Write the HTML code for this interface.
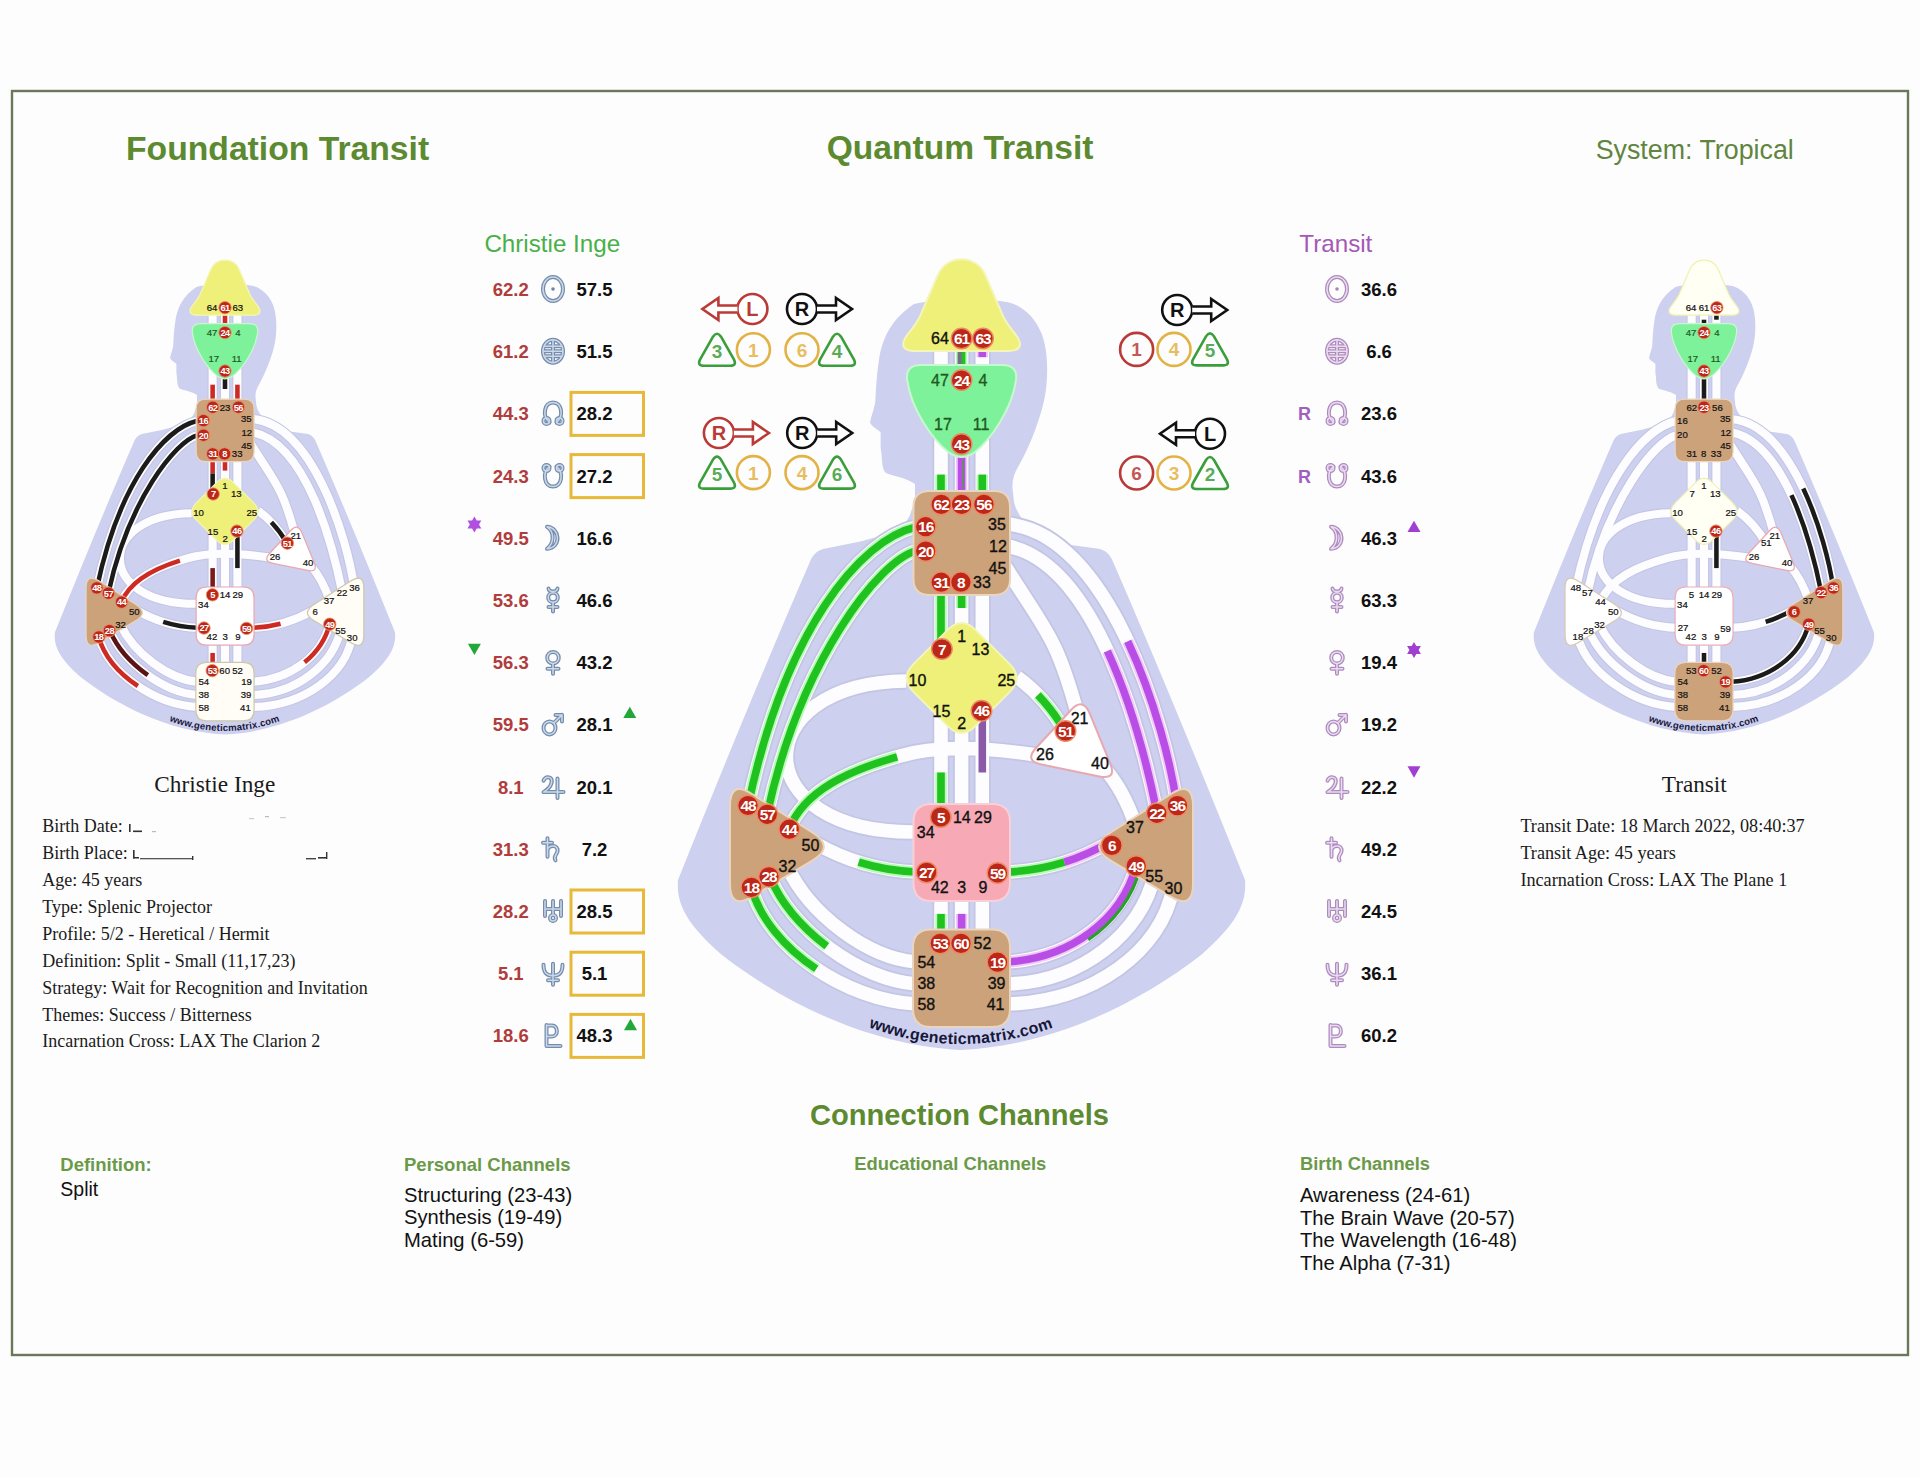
<!DOCTYPE html><html><head><meta charset="utf-8"><title>Foundation Transit</title>
<style>html,body{margin:0;padding:0;background:#fefefe;}body{width:1920px;height:1477px;overflow:hidden;position:relative;}svg{position:absolute;left:0;top:0;}</style></head><body>
<svg width="1920" height="1477" viewBox="0 0 1920 1477">
<rect x="0" y="0" width="1920" height="1477" fill="#fdfdfd"/>
<rect x="12" y="91" width="1896" height="1264" fill="none" stroke="#6b7858" stroke-width="2.4"/>
<text x="126" y="159.6" font-family="'Liberation Sans', sans-serif" font-size="33.7" font-weight="bold" fill="#5c8a30">Foundation Transit</text>
<text x="826.7" y="159.3" font-family="'Liberation Sans', sans-serif" font-size="33.6" font-weight="bold" fill="#5c8a30">Quantum Transit</text>
<text x="1595.7" y="159.4" font-family="'Liberation Sans', sans-serif" font-size="26.8" fill="#5f8540">System: Tropical</text>
<g id="cbg">
<path d="M 961 300 C 990 300 1008 300 1018 306 C 1036 316 1045 335 1046.5 356 C 1048 372 1047 390 1043 405 C 1038 425 1028 450 1018 467 C 1014 474 1012 480 1012.5 488 L 1014 502 C 1018 520 1036 536 1064 544 L 1100 549 C 1107 551 1111 556 1114 564 Q 1173 700 1245 880 C 1247 905 1235 925 1201 955 C 1143 1000 1058 1045 961.5 1050 C 865 1045 780 1000 722 955 C 688 925 676 905 678 880 Q 750 700 809 564 C 812 556 816 551 823 549 L 858 542 C 888 535 905 528 910 515 L 915 500 L 915 484 C 905 477 892 476 886 473 C 882 470 882 460 881.3 452 C 880 447 881 437 880.5 432 C 876 428 869 425 870.3 421 C 872 414 875.4 405 875.4 400 C 876 388 877 372 879 360 C 882 340 890 320 914 304 C 930 300 950 300 961 300 Z" fill="#cdd0ee"/>
<path d="M 941.0 345 L 941.0 372" fill="none" stroke="#c3c5e3" stroke-width="17"/>
<path d="M 961.6 345 L 961.6 372" fill="none" stroke="#c3c5e3" stroke-width="17"/>
<path d="M 982.3 345 L 982.3 372" fill="none" stroke="#c3c5e3" stroke-width="17"/>
<path d="M 941.0 420 L 941.0 498" fill="none" stroke="#c3c5e3" stroke-width="17"/>
<path d="M 961.6 450 L 961.6 498" fill="none" stroke="#c3c5e3" stroke-width="17"/>
<path d="M 982.3 420 L 982.3 498" fill="none" stroke="#c3c5e3" stroke-width="17"/>
<path d="M 941.0 590 L 941.0 652" fill="none" stroke="#c3c5e3" stroke-width="17"/>
<path d="M 961.6 590 L 961.6 630" fill="none" stroke="#c3c5e3" stroke-width="17"/>
<path d="M 982.3 590 L 982.3 652" fill="none" stroke="#c3c5e3" stroke-width="17"/>
<path d="M 941.0 708 L 941.0 812" fill="none" stroke="#c3c5e3" stroke-width="17"/>
<path d="M 961.6 725 L 961.6 812" fill="none" stroke="#c3c5e3" stroke-width="17"/>
<path d="M 982.3 708 L 982.3 812" fill="none" stroke="#c3c5e3" stroke-width="17"/>
<path d="M 941.0 895 L 941.0 937" fill="none" stroke="#c3c5e3" stroke-width="17"/>
<path d="M 961.6 895 L 961.6 937" fill="none" stroke="#c3c5e3" stroke-width="17"/>
<path d="M 982.3 895 L 982.3 937" fill="none" stroke="#c3c5e3" stroke-width="17"/>
<path d="M 916 527 C 860 540 785 630 748 806" fill="none" stroke="#c3c5e3" stroke-width="17"/>
<path d="M 916 551 C 880 560 800 660 767 815" fill="none" stroke="#c3c5e3" stroke-width="17"/>
<path d="M 906 681 C 745 683 745 834 916 832" fill="none" stroke="#c3c5e3" stroke-width="17"/>
<path d="M 1036 755 C 990 748 940 744 900 756 C 850 770 805 790 789 829" fill="none" stroke="#c3c5e3" stroke-width="17"/>
<path d="M 815 843 Q 862 870 916 872" fill="none" stroke="#c3c5e3" stroke-width="17"/>
<path d="M 1007 872 Q 1061 870 1108 843" fill="none" stroke="#c3c5e3" stroke-width="17"/>
<path d="M 751 887 C 768 948 845 1000 916 1004" fill="none" stroke="#c3c5e3" stroke-width="17"/>
<path d="M 770 877 C 792 930 860 980 916 984" fill="none" stroke="#c3c5e3" stroke-width="17"/>
<path d="M 787 866 C 810 915 868 958 916 962" fill="none" stroke="#c3c5e3" stroke-width="17"/>
<path d="M 1007 524 C 1108.3 532.5 1165.5 723 1177 806" fill="none" stroke="#c3c5e3" stroke-width="17"/>
<path d="M 1007 546 C 1097.8 563.4 1141.9 737.5 1157 813" fill="none" stroke="#c3c5e3" stroke-width="17"/>
<path d="M 1005 566 C 1044.4 629.7 1055.6 634.2 1077 712" fill="none" stroke="#c3c5e3" stroke-width="17"/>
<path d="M 1104 768 Q 1124 790 1136 827" fill="none" stroke="#c3c5e3" stroke-width="17"/>
<path d="M 1017 677 Q 1045 697 1065 731" fill="none" stroke="#c3c5e3" stroke-width="17"/>
<path d="M 1007 962 C 1070 958 1122 920 1136 866" fill="none" stroke="#c3c5e3" stroke-width="17"/>
<path d="M 1007 984 C 1082 982 1142 932 1154 876" fill="none" stroke="#c3c5e3" stroke-width="17"/>
<path d="M 1007 1004 C 1094 1002 1162 950 1173 888" fill="none" stroke="#c3c5e3" stroke-width="17"/>
<path d="M 941.0 345 L 941.0 372" fill="none" stroke="#fdfdff" stroke-width="13.5"/>
<path d="M 961.6 345 L 961.6 372" fill="none" stroke="#fdfdff" stroke-width="13.5"/>
<path d="M 982.3 345 L 982.3 372" fill="none" stroke="#fdfdff" stroke-width="13.5"/>
<path d="M 941.0 420 L 941.0 498" fill="none" stroke="#fdfdff" stroke-width="13.5"/>
<path d="M 961.6 450 L 961.6 498" fill="none" stroke="#fdfdff" stroke-width="13.5"/>
<path d="M 982.3 420 L 982.3 498" fill="none" stroke="#fdfdff" stroke-width="13.5"/>
<path d="M 941.0 590 L 941.0 652" fill="none" stroke="#fdfdff" stroke-width="13.5"/>
<path d="M 961.6 590 L 961.6 630" fill="none" stroke="#fdfdff" stroke-width="13.5"/>
<path d="M 982.3 590 L 982.3 652" fill="none" stroke="#fdfdff" stroke-width="13.5"/>
<path d="M 941.0 708 L 941.0 812" fill="none" stroke="#fdfdff" stroke-width="13.5"/>
<path d="M 961.6 725 L 961.6 812" fill="none" stroke="#fdfdff" stroke-width="13.5"/>
<path d="M 982.3 708 L 982.3 812" fill="none" stroke="#fdfdff" stroke-width="13.5"/>
<path d="M 941.0 895 L 941.0 937" fill="none" stroke="#fdfdff" stroke-width="13.5"/>
<path d="M 961.6 895 L 961.6 937" fill="none" stroke="#fdfdff" stroke-width="13.5"/>
<path d="M 982.3 895 L 982.3 937" fill="none" stroke="#fdfdff" stroke-width="13.5"/>
<path d="M 916 527 C 860 540 785 630 748 806" fill="none" stroke="#fdfdff" stroke-width="13.5"/>
<path d="M 916 551 C 880 560 800 660 767 815" fill="none" stroke="#fdfdff" stroke-width="13.5"/>
<path d="M 906 681 C 745 683 745 834 916 832" fill="none" stroke="#fdfdff" stroke-width="13.5"/>
<path d="M 1036 755 C 990 748 940 744 900 756 C 850 770 805 790 789 829" fill="none" stroke="#fdfdff" stroke-width="13.5"/>
<path d="M 815 843 Q 862 870 916 872" fill="none" stroke="#fdfdff" stroke-width="13.5"/>
<path d="M 1007 872 Q 1061 870 1108 843" fill="none" stroke="#fdfdff" stroke-width="13.5"/>
<path d="M 751 887 C 768 948 845 1000 916 1004" fill="none" stroke="#fdfdff" stroke-width="13.5"/>
<path d="M 770 877 C 792 930 860 980 916 984" fill="none" stroke="#fdfdff" stroke-width="13.5"/>
<path d="M 787 866 C 810 915 868 958 916 962" fill="none" stroke="#fdfdff" stroke-width="13.5"/>
<path d="M 1007 524 C 1108.3 532.5 1165.5 723 1177 806" fill="none" stroke="#fdfdff" stroke-width="13.5"/>
<path d="M 1007 546 C 1097.8 563.4 1141.9 737.5 1157 813" fill="none" stroke="#fdfdff" stroke-width="13.5"/>
<path d="M 1005 566 C 1044.4 629.7 1055.6 634.2 1077 712" fill="none" stroke="#fdfdff" stroke-width="13.5"/>
<path d="M 1104 768 Q 1124 790 1136 827" fill="none" stroke="#fdfdff" stroke-width="13.5"/>
<path d="M 1017 677 Q 1045 697 1065 731" fill="none" stroke="#fdfdff" stroke-width="13.5"/>
<path d="M 1007 962 C 1070 958 1122 920 1136 866" fill="none" stroke="#fdfdff" stroke-width="13.5"/>
<path d="M 1007 984 C 1082 982 1142 932 1154 876" fill="none" stroke="#fdfdff" stroke-width="13.5"/>
<path d="M 1007 1004 C 1094 1002 1162 950 1173 888" fill="none" stroke="#fdfdff" stroke-width="13.5"/>
<path d="M 961.6 345 L 961.6 372" fill="none" stroke="#b8fbb8" stroke-width="11.5"/>
<path d="M 982.3 345 L 982.3 372" pathLength="100" fill="none" stroke="#f2c8fb" stroke-width="11.5" stroke-dasharray="45 400" stroke-dashoffset="0"/>
<path d="M 941.0 420 L 941.0 498" pathLength="100" fill="none" stroke="#b8fbb8" stroke-width="11.5" stroke-dasharray="30 400" stroke-dashoffset="-70"/>
<path d="M 982.3 420 L 982.3 498" pathLength="100" fill="none" stroke="#b8fbb8" stroke-width="11.5" stroke-dasharray="30 400" stroke-dashoffset="-70"/>
<path d="M 961.6 450 L 961.6 498" fill="none" stroke="#f2c8fb" stroke-width="11.5"/>
<path d="M 941.0 590 L 941.0 652" fill="none" stroke="#b8fbb8" stroke-width="11.5"/>
<path d="M 961.6 590 L 961.6 630" pathLength="100" fill="none" stroke="#b8fbb8" stroke-width="11.5" stroke-dasharray="45 400" stroke-dashoffset="0"/>
<path d="M 941.0 708 L 941.0 812" pathLength="100" fill="none" stroke="#b8fbb8" stroke-width="11.5" stroke-dasharray="38 400" stroke-dashoffset="-62"/>
<path d="M 941.0 895 L 941.0 937" pathLength="100" fill="none" stroke="#b8fbb8" stroke-width="11.5" stroke-dasharray="55 400" stroke-dashoffset="-45"/>
<path d="M 961.6 895 L 961.6 937" pathLength="100" fill="none" stroke="#f2c8fb" stroke-width="11.5" stroke-dasharray="55 400" stroke-dashoffset="-45"/>
<path d="M 916 527 C 860 540 785 630 748 806" fill="none" stroke="#b8fbb8" stroke-width="11.5"/>
<path d="M 916 551 C 880 560 800 660 767 815" fill="none" stroke="#b8fbb8" stroke-width="11.5"/>
<path d="M 1036 755 C 990 748 940 744 900 756 C 850 770 805 790 789 829" pathLength="100" fill="none" stroke="#b8fbb8" stroke-width="11.5" stroke-dasharray="49 400" stroke-dashoffset="-51"/>
<path d="M 815 843 Q 862 870 916 872" pathLength="100" fill="none" stroke="#b8fbb8" stroke-width="11.5" stroke-dasharray="55 400" stroke-dashoffset="-45"/>
<path d="M 1007 872 Q 1061 870 1108 843" pathLength="100" fill="none" stroke="#b8fbb8" stroke-width="11.5" stroke-dasharray="55 400" stroke-dashoffset="0"/>
<path d="M 1007 872 Q 1061 870 1108 843" pathLength="100" fill="none" stroke="#f2c8fb" stroke-width="11.5" stroke-dasharray="45 400" stroke-dashoffset="-55"/>
<path d="M 751 887 C 768 948 845 1000 916 1004" pathLength="100" fill="none" stroke="#b8fbb8" stroke-width="11.5" stroke-dasharray="50 400" stroke-dashoffset="0"/>
<path d="M 770 877 C 792 930 860 980 916 984" pathLength="100" fill="none" stroke="#b8fbb8" stroke-width="11.5" stroke-dasharray="48 400" stroke-dashoffset="0"/>
<path d="M 1007 524 C 1108.3 532.5 1165.5 723 1177 806" pathLength="100" fill="none" stroke="#f2c8fb" stroke-width="11.5" stroke-dasharray="49.5 400" stroke-dashoffset="-50.5"/>
<path d="M 1007 546 C 1097.8 563.4 1141.9 737.5 1157 813" pathLength="100" fill="none" stroke="#f2c8fb" stroke-width="11.5" stroke-dasharray="53 400" stroke-dashoffset="-47"/>
<path d="M 1017 677 Q 1045 697 1065 731" pathLength="100" fill="none" stroke="#b8fbb8" stroke-width="11.5" stroke-dasharray="50 400" stroke-dashoffset="-38"/>
<path d="M 1007 962 C 1070 958 1122 920 1136 866" fill="none" stroke="#f2c8fb" stroke-width="11.5"/>
<path d="M 961.6 345 L 961.6 372" fill="none" stroke="#1fc21f" stroke-width="7.6"/>
<path d="M 982.3 345 L 982.3 372" pathLength="100" fill="none" stroke="#b84ee6" stroke-width="7.6" stroke-dasharray="45 400" stroke-dashoffset="0"/>
<path d="M 941.0 420 L 941.0 498" pathLength="100" fill="none" stroke="#1fc21f" stroke-width="7.6" stroke-dasharray="30 400" stroke-dashoffset="-70"/>
<path d="M 982.3 420 L 982.3 498" pathLength="100" fill="none" stroke="#1fc21f" stroke-width="7.6" stroke-dasharray="30 400" stroke-dashoffset="-70"/>
<path d="M 961.6 450 L 961.6 498" fill="none" stroke="#b84ee6" stroke-width="7.6"/>
<path d="M 941.0 590 L 941.0 652" fill="none" stroke="#1fc21f" stroke-width="7.6"/>
<path d="M 961.6 590 L 961.6 630" pathLength="100" fill="none" stroke="#1fc21f" stroke-width="7.6" stroke-dasharray="45 400" stroke-dashoffset="0"/>
<path d="M 941.0 708 L 941.0 812" pathLength="100" fill="none" stroke="#1fc21f" stroke-width="7.6" stroke-dasharray="38 400" stroke-dashoffset="-62"/>
<path d="M 982.3 708 L 982.3 812" pathLength="100" fill="none" stroke="#8a5aa8" stroke-width="7.6" stroke-dasharray="62 400" stroke-dashoffset="0"/>
<path d="M 941.0 895 L 941.0 937" pathLength="100" fill="none" stroke="#1fc21f" stroke-width="7.6" stroke-dasharray="55 400" stroke-dashoffset="-45"/>
<path d="M 961.6 895 L 961.6 937" pathLength="100" fill="none" stroke="#b84ee6" stroke-width="7.6" stroke-dasharray="55 400" stroke-dashoffset="-45"/>
<path d="M 916 527 C 860 540 785 630 748 806" fill="none" stroke="#1fc21f" stroke-width="7.6"/>
<path d="M 916 551 C 880 560 800 660 767 815" fill="none" stroke="#1fc21f" stroke-width="7.6"/>
<path d="M 1036 755 C 990 748 940 744 900 756 C 850 770 805 790 789 829" pathLength="100" fill="none" stroke="#1fc21f" stroke-width="7.6" stroke-dasharray="49 400" stroke-dashoffset="-51"/>
<path d="M 815 843 Q 862 870 916 872" pathLength="100" fill="none" stroke="#1fc21f" stroke-width="7.6" stroke-dasharray="55 400" stroke-dashoffset="-45"/>
<path d="M 1007 872 Q 1061 870 1108 843" pathLength="100" fill="none" stroke="#1fc21f" stroke-width="7.6" stroke-dasharray="55 400" stroke-dashoffset="0"/>
<path d="M 1007 872 Q 1061 870 1108 843" pathLength="100" fill="none" stroke="#b84ee6" stroke-width="7.6" stroke-dasharray="45 400" stroke-dashoffset="-55"/>
<path d="M 751 887 C 768 948 845 1000 916 1004" pathLength="100" fill="none" stroke="#1fc21f" stroke-width="7.6" stroke-dasharray="50 400" stroke-dashoffset="0"/>
<path d="M 770 877 C 792 930 860 980 916 984" pathLength="100" fill="none" stroke="#1fc21f" stroke-width="7.6" stroke-dasharray="48 400" stroke-dashoffset="0"/>
<path d="M 1007 524 C 1108.3 532.5 1165.5 723 1177 806" pathLength="100" fill="none" stroke="#b84ee6" stroke-width="7.6" stroke-dasharray="49.5 400" stroke-dashoffset="-50.5"/>
<path d="M 1007 546 C 1097.8 563.4 1141.9 737.5 1157 813" pathLength="100" fill="none" stroke="#b84ee6" stroke-width="7.6" stroke-dasharray="53 400" stroke-dashoffset="-47"/>
<path d="M 1017 677 Q 1045 697 1065 731" pathLength="100" fill="none" stroke="#1fc21f" stroke-width="7.6" stroke-dasharray="50 400" stroke-dashoffset="-38"/>
<path d="M 1007 962 C 1070 958 1122 920 1136 866" fill="none" stroke="#b84ee6" stroke-width="7.6"/>
<path d="M 1009 966.5 C 1073 962.5 1127 922 1140.5 867" pathLength="100" fill="none" stroke="#2aa02a" stroke-width="3.2" stroke-dasharray="52 400" stroke-dashoffset="-48"/>
<path d="M 963.1 456 L 963.1 492" pathLength="100" fill="none" stroke="#6a8a6a" stroke-width="2.2" stroke-dasharray="80 400" stroke-dashoffset="-10"/>
<path d="M 959.6 350 L 959.6 372" pathLength="100" fill="none" stroke="#7a6a8a" stroke-width="3.8" stroke-dasharray="90 400" stroke-dashoffset="-10"/>
<path d="M 938.2 274.2 A 25.7 25.7 0 0 1 985 274.2 L 1003 316 C 1010 331 1020 336 1020 344 C 1020 349 1016 351 1008 351 L 915.2 351 C 907.2 351 903.2 349 903.2 344 C 903.2 336 913.2 331 920.2 316 Z" fill="#eef07a" stroke="#f4f6b8" stroke-width="2"/>
<path d="M 921 365 L 1002 365 Q 1018 365 1016 380 C 1012 410 990 440 975 452 Q 961.6 462 948.2 452 C 933.2 440 911.2 410 907.2 380 Q 905.2 365 921 365 Z" fill="#7ef29a" stroke="#c8f8d0" stroke-width="2"/>
<path d="M 929.5 491 H 994 Q 1010 491 1010 507 V 579 Q 1010 595 994 595 H 929.5 Q 913.5 595 913.5 579 V 507 Q 913.5 491 929.5 491 Z" fill="#cba27a" stroke="#ead6c0" stroke-width="2"/>
<path d="M 975.7 630.1 L 1009.5 663.9 Q 1023.6 678.0 1009.5 692.1 L 975.7 725.9 Q 961.6 740.0 947.5 725.9 L 913.7 692.1 Q 899.6 678.0 913.7 663.9 L 947.5 630.1 Q 961.6 616.0 975.7 630.1 Z" fill="#eef07a" stroke="#f4f6b8" stroke-width="2"/>
<path d="M 1089.8 713.7 L 1110.2 763.3 Q 1117.0 780.0 1099.4 776.4 L 1041.6 764.6 Q 1024.0 761.0 1036.2 747.8 L 1070.8 710.2 Q 1083.0 697.0 1089.8 713.7 Z" fill="#ffffff" stroke="#e8a8b0" stroke-width="2"/>
<path d="M 931.5 804 H 992 Q 1010 804 1010 822 V 883 Q 1010 901 992 901 H 931.5 Q 913.5 901 913.5 883 V 822 Q 913.5 804 931.5 804 Z" fill="#f7aab6" stroke="#f8d0d8" stroke-width="2"/>
<path d="M 931 929.5 H 992 Q 1010 929.5 1010 947.5 V 1009 Q 1010 1027 992 1027 H 931 Q 913 1027 913 1009 V 947.5 Q 913 929.5 931 929.5 Z" fill="#cba27a" stroke="#ead6c0" stroke-width="2"/>
<path d="M 751.9 794.0 L 813.1 833.0 Q 835.0 847.0 812.7 860.4 L 752.3 896.6 Q 730.0 910.0 730.0 884.0 L 730.0 806.0 Q 730.0 780.0 751.9 794.0 Z" fill="#cba27a" stroke="#ead6c0" stroke-width="2"/>
<path d="M 1193.0 806.0 L 1193.0 884.0 Q 1193.0 910.0 1170.7 896.6 L 1110.3 860.4 Q 1088.0 847.0 1109.9 833.0 L 1171.1 794.0 Q 1193.0 780.0 1193.0 806.0 Z" fill="#cba27a" stroke="#ead6c0" stroke-width="2"/>
<g font-family="'Liberation Sans', sans-serif" font-size="16" text-anchor="middle">
<text x="940" y="344.0" fill="#111" stroke="#111" stroke-width="0.35">64</text>
<circle cx="961.6" cy="338.5" r="10.3" fill="#bd2718" stroke="#ec8a66" stroke-width="1.4"/>
<text x="961.6" y="344.1" fill="#fff" font-size="15.5" font-weight="bold" letter-spacing="-1">61</text>
<circle cx="983" cy="338.5" r="10.3" fill="#bd2718" stroke="#ec8a66" stroke-width="1.4"/>
<text x="983" y="344.1" fill="#fff" font-size="15.5" font-weight="bold" letter-spacing="-1">63</text>
<text x="940" y="385.5" fill="#1f5a1f" stroke="#1f5a1f" stroke-width="0.35">47</text>
<circle cx="961.6" cy="380" r="10.3" fill="#bd2718" stroke="#ec8a66" stroke-width="1.4"/>
<text x="961.6" y="385.6" fill="#fff" font-size="15.5" font-weight="bold" letter-spacing="-1">24</text>
<text x="983" y="385.5" fill="#1f5a1f" stroke="#1f5a1f" stroke-width="0.35">4</text>
<text x="943" y="429.5" fill="#1f5a1f" stroke="#1f5a1f" stroke-width="0.35">17</text>
<text x="981" y="429.5" fill="#1f5a1f" stroke="#1f5a1f" stroke-width="0.35">11</text>
<circle cx="961.6" cy="444" r="10.3" fill="#bd2718" stroke="#ec8a66" stroke-width="1.4"/>
<text x="961.6" y="449.6" fill="#fff" font-size="15.5" font-weight="bold" letter-spacing="-1">43</text>
<circle cx="941.2" cy="504.4" r="10.3" fill="#bd2718" stroke="#ec8a66" stroke-width="1.4"/>
<text x="941.2" y="510.0" fill="#fff" font-size="15.5" font-weight="bold" letter-spacing="-1">62</text>
<circle cx="961.6" cy="504.4" r="10.3" fill="#bd2718" stroke="#ec8a66" stroke-width="1.4"/>
<text x="961.6" y="510.0" fill="#fff" font-size="15.5" font-weight="bold" letter-spacing="-1">23</text>
<circle cx="983.9" cy="504.4" r="10.3" fill="#bd2718" stroke="#ec8a66" stroke-width="1.4"/>
<text x="983.9" y="510.0" fill="#fff" font-size="15.5" font-weight="bold" letter-spacing="-1">56</text>
<circle cx="925.7" cy="526.7" r="10.3" fill="#bd2718" stroke="#ec8a66" stroke-width="1.4"/>
<text x="925.7" y="532.3" fill="#fff" font-size="15.5" font-weight="bold" letter-spacing="-1">16</text>
<circle cx="925.7" cy="551" r="10.3" fill="#bd2718" stroke="#ec8a66" stroke-width="1.4"/>
<text x="925.7" y="556.6" fill="#fff" font-size="15.5" font-weight="bold" letter-spacing="-1">20</text>
<text x="997" y="529.5" fill="#111" stroke="#111" stroke-width="0.35">35</text>
<text x="998" y="551.9" fill="#111" stroke="#111" stroke-width="0.35">12</text>
<text x="997.4" y="573.5" fill="#111" stroke="#111" stroke-width="0.35">45</text>
<circle cx="941.2" cy="582.2" r="10.3" fill="#bd2718" stroke="#ec8a66" stroke-width="1.4"/>
<text x="941.2" y="587.8" fill="#fff" font-size="15.5" font-weight="bold" letter-spacing="-1">31</text>
<circle cx="960.9" cy="582.2" r="10.3" fill="#bd2718" stroke="#ec8a66" stroke-width="1.4"/>
<text x="960.9" y="587.8" fill="#fff" font-size="15.5" font-weight="bold" letter-spacing="-1">8</text>
<text x="981.9" y="587.7" fill="#111" stroke="#111" stroke-width="0.35">33</text>
<text x="961.6" y="641.5" fill="#111" stroke="#111" stroke-width="0.35">1</text>
<circle cx="941.9" cy="649" r="10.3" fill="#bd2718" stroke="#ec8a66" stroke-width="1.4"/>
<text x="941.9" y="654.6" fill="#fff" font-size="15.5" font-weight="bold" letter-spacing="-1">7</text>
<text x="980.5" y="654.5" fill="#111" stroke="#111" stroke-width="0.35">13</text>
<text x="917.5" y="686.0" fill="#111" stroke="#111" stroke-width="0.35">10</text>
<text x="1006.3" y="686.3" fill="#111" stroke="#111" stroke-width="0.35">25</text>
<text x="941.5" y="716.8" fill="#111" stroke="#111" stroke-width="0.35">15</text>
<text x="961.8" y="729.1" fill="#111" stroke="#111" stroke-width="0.35">2</text>
<circle cx="981.5" cy="710.8" r="10.3" fill="#bd2718" stroke="#ec8a66" stroke-width="1.4"/>
<text x="981.5" y="716.4" fill="#fff" font-size="15.5" font-weight="bold" letter-spacing="-1">46</text>
<text x="1079.6" y="723.5" fill="#111" stroke="#111" stroke-width="0.35">21</text>
<circle cx="1065.5" cy="731" r="10.3" fill="#bd2718" stroke="#ec8a66" stroke-width="1.4"/>
<text x="1065.5" y="736.6" fill="#fff" font-size="15.5" font-weight="bold" letter-spacing="-1">51</text>
<text x="1045" y="759.5" fill="#111" stroke="#111" stroke-width="0.35">26</text>
<text x="1100" y="768.5" fill="#111" stroke="#111" stroke-width="0.35">40</text>
<circle cx="748" cy="805.5" r="10.3" fill="#bd2718" stroke="#ec8a66" stroke-width="1.4"/>
<text x="748" y="811.1" fill="#fff" font-size="15.5" font-weight="bold" letter-spacing="-1">48</text>
<circle cx="767.3" cy="814.3" r="10.3" fill="#bd2718" stroke="#ec8a66" stroke-width="1.4"/>
<text x="767.3" y="819.9" fill="#fff" font-size="15.5" font-weight="bold" letter-spacing="-1">57</text>
<circle cx="789.3" cy="829.2" r="10.3" fill="#bd2718" stroke="#ec8a66" stroke-width="1.4"/>
<text x="789.3" y="834.8" fill="#fff" font-size="15.5" font-weight="bold" letter-spacing="-1">44</text>
<text x="810.4" y="850.5" fill="#111" stroke="#111" stroke-width="0.35">50</text>
<text x="787.5" y="871.7" fill="#111" stroke="#111" stroke-width="0.35">32</text>
<circle cx="769" cy="876.8" r="10.3" fill="#bd2718" stroke="#ec8a66" stroke-width="1.4"/>
<text x="769" y="882.4" fill="#fff" font-size="15.5" font-weight="bold" letter-spacing="-1">28</text>
<circle cx="751.4" cy="887.3" r="10.3" fill="#bd2718" stroke="#ec8a66" stroke-width="1.4"/>
<text x="751.4" y="892.9" fill="#fff" font-size="15.5" font-weight="bold" letter-spacing="-1">18</text>
<circle cx="1177.4" cy="805.6" r="10.3" fill="#bd2718" stroke="#ec8a66" stroke-width="1.4"/>
<text x="1177.4" y="811.2" fill="#fff" font-size="15.5" font-weight="bold" letter-spacing="-1">36</text>
<circle cx="1156.8" cy="813.3" r="10.3" fill="#bd2718" stroke="#ec8a66" stroke-width="1.4"/>
<text x="1156.8" y="818.9" fill="#fff" font-size="15.5" font-weight="bold" letter-spacing="-1">22</text>
<text x="1135" y="832.9" fill="#111" stroke="#111" stroke-width="0.35">37</text>
<circle cx="1111.8" cy="845.4" r="10.3" fill="#bd2718" stroke="#ec8a66" stroke-width="1.4"/>
<text x="1111.8" y="851.0" fill="#fff" font-size="15.5" font-weight="bold" letter-spacing="-1">6</text>
<circle cx="1136.2" cy="866" r="10.3" fill="#bd2718" stroke="#ec8a66" stroke-width="1.4"/>
<text x="1136.2" y="871.6" fill="#fff" font-size="15.5" font-weight="bold" letter-spacing="-1">49</text>
<text x="1154.2" y="881.8" fill="#111" stroke="#111" stroke-width="0.35">55</text>
<text x="1173.5" y="893.5" fill="#111" stroke="#111" stroke-width="0.35">30</text>
<circle cx="940.7" cy="817" r="10.3" fill="#bd2718" stroke="#ec8a66" stroke-width="1.4"/>
<text x="940.7" y="822.6" fill="#fff" font-size="15.5" font-weight="bold" letter-spacing="-1">5</text>
<text x="961.8" y="822.5" fill="#111" stroke="#111" stroke-width="0.35">14</text>
<text x="983" y="822.5" fill="#111" stroke="#111" stroke-width="0.35">29</text>
<text x="925.7" y="838.2" fill="#111" stroke="#111" stroke-width="0.35">34</text>
<circle cx="926.6" cy="872.4" r="10.3" fill="#bd2718" stroke="#ec8a66" stroke-width="1.4"/>
<text x="926.6" y="878.0" fill="#fff" font-size="15.5" font-weight="bold" letter-spacing="-1">27</text>
<circle cx="997.5" cy="873" r="10.3" fill="#bd2718" stroke="#ec8a66" stroke-width="1.4"/>
<text x="997.5" y="878.6" fill="#fff" font-size="15.5" font-weight="bold" letter-spacing="-1">59</text>
<text x="939.8" y="892.8" fill="#111" stroke="#111" stroke-width="0.35">42</text>
<text x="961.8" y="892.8" fill="#111" stroke="#111" stroke-width="0.35">3</text>
<text x="983" y="892.8" fill="#111" stroke="#111" stroke-width="0.35">9</text>
<circle cx="940.3" cy="943.4" r="10.3" fill="#bd2718" stroke="#ec8a66" stroke-width="1.4"/>
<text x="940.3" y="949.0" fill="#fff" font-size="15.5" font-weight="bold" letter-spacing="-1">53</text>
<circle cx="961" cy="943.4" r="10.3" fill="#bd2718" stroke="#ec8a66" stroke-width="1.4"/>
<text x="961" y="949.0" fill="#fff" font-size="15.5" font-weight="bold" letter-spacing="-1">60</text>
<text x="982.5" y="948.9" fill="#111" stroke="#111" stroke-width="0.35">52</text>
<text x="926.3" y="967.7" fill="#111" stroke="#111" stroke-width="0.35">54</text>
<circle cx="997.5" cy="962.2" r="10.3" fill="#bd2718" stroke="#ec8a66" stroke-width="1.4"/>
<text x="997.5" y="967.8" fill="#fff" font-size="15.5" font-weight="bold" letter-spacing="-1">19</text>
<text x="926.3" y="989.3" fill="#111" stroke="#111" stroke-width="0.35">38</text>
<text x="996.6" y="989.3" fill="#111" stroke="#111" stroke-width="0.35">39</text>
<text x="926.3" y="1009.9" fill="#111" stroke="#111" stroke-width="0.35">58</text>
<text x="995.6" y="1009.9" fill="#111" stroke="#111" stroke-width="0.35">41</text>
</g>
<path id="wmcbg" d="M 860 1024 Q 961 1064 1062 1024" fill="none"/>
<text font-family="'Liberation Sans', sans-serif" font-size="16" font-weight="bold" fill="#17173a" letter-spacing="0.3"><textPath href="#wmcbg" startOffset="50%" text-anchor="middle">www.geneticmatrix.com</textPath></text>
</g>
<g transform="translate(-351.96,104.6) scale(0.6)"><g id="lbg">
<path d="M 961 300 C 990 300 1008 300 1018 306 C 1036 316 1045 335 1046.5 356 C 1048 372 1047 390 1043 405 C 1038 425 1028 450 1018 467 C 1014 474 1012 480 1012.5 488 L 1014 502 C 1018 520 1036 536 1064 544 L 1100 549 C 1107 551 1111 556 1114 564 Q 1173 700 1245 880 C 1247 905 1235 925 1201 955 C 1143 1000 1058 1045 961.5 1050 C 865 1045 780 1000 722 955 C 688 925 676 905 678 880 Q 750 700 809 564 C 812 556 816 551 823 549 L 858 542 C 888 535 905 528 910 515 L 915 500 L 915 484 C 905 477 892 476 886 473 C 882 470 882 460 881.3 452 C 880 447 881 437 880.5 432 C 876 428 869 425 870.3 421 C 872 414 875.4 405 875.4 400 C 876 388 877 372 879 360 C 882 340 890 320 914 304 C 930 300 950 300 961 300 Z" fill="#cdd0ee"/>
<path d="M 941.0 345 L 941.0 372" fill="none" stroke="#c3c5e3" stroke-width="17"/>
<path d="M 961.6 345 L 961.6 372" fill="none" stroke="#c3c5e3" stroke-width="17"/>
<path d="M 982.3 345 L 982.3 372" fill="none" stroke="#c3c5e3" stroke-width="17"/>
<path d="M 941.0 420 L 941.0 498" fill="none" stroke="#c3c5e3" stroke-width="17"/>
<path d="M 961.6 450 L 961.6 498" fill="none" stroke="#c3c5e3" stroke-width="17"/>
<path d="M 982.3 420 L 982.3 498" fill="none" stroke="#c3c5e3" stroke-width="17"/>
<path d="M 941.0 590 L 941.0 652" fill="none" stroke="#c3c5e3" stroke-width="17"/>
<path d="M 961.6 590 L 961.6 630" fill="none" stroke="#c3c5e3" stroke-width="17"/>
<path d="M 982.3 590 L 982.3 652" fill="none" stroke="#c3c5e3" stroke-width="17"/>
<path d="M 941.0 708 L 941.0 812" fill="none" stroke="#c3c5e3" stroke-width="17"/>
<path d="M 961.6 725 L 961.6 812" fill="none" stroke="#c3c5e3" stroke-width="17"/>
<path d="M 982.3 708 L 982.3 812" fill="none" stroke="#c3c5e3" stroke-width="17"/>
<path d="M 941.0 895 L 941.0 937" fill="none" stroke="#c3c5e3" stroke-width="17"/>
<path d="M 961.6 895 L 961.6 937" fill="none" stroke="#c3c5e3" stroke-width="17"/>
<path d="M 982.3 895 L 982.3 937" fill="none" stroke="#c3c5e3" stroke-width="17"/>
<path d="M 916 527 C 860 540 785 630 748 806" fill="none" stroke="#c3c5e3" stroke-width="17"/>
<path d="M 916 551 C 880 560 800 660 767 815" fill="none" stroke="#c3c5e3" stroke-width="17"/>
<path d="M 906 681 C 745 683 745 834 916 832" fill="none" stroke="#c3c5e3" stroke-width="17"/>
<path d="M 1036 755 C 990 748 940 744 900 756 C 850 770 805 790 789 829" fill="none" stroke="#c3c5e3" stroke-width="17"/>
<path d="M 815 843 Q 862 870 916 872" fill="none" stroke="#c3c5e3" stroke-width="17"/>
<path d="M 1007 872 Q 1061 870 1108 843" fill="none" stroke="#c3c5e3" stroke-width="17"/>
<path d="M 751 887 C 768 948 845 1000 916 1004" fill="none" stroke="#c3c5e3" stroke-width="17"/>
<path d="M 770 877 C 792 930 860 980 916 984" fill="none" stroke="#c3c5e3" stroke-width="17"/>
<path d="M 787 866 C 810 915 868 958 916 962" fill="none" stroke="#c3c5e3" stroke-width="17"/>
<path d="M 1007 524 C 1108.3 532.5 1165.5 723 1177 806" fill="none" stroke="#c3c5e3" stroke-width="17"/>
<path d="M 1007 546 C 1097.8 563.4 1141.9 737.5 1157 813" fill="none" stroke="#c3c5e3" stroke-width="17"/>
<path d="M 1005 566 C 1044.4 629.7 1055.6 634.2 1077 712" fill="none" stroke="#c3c5e3" stroke-width="17"/>
<path d="M 1104 768 Q 1124 790 1136 827" fill="none" stroke="#c3c5e3" stroke-width="17"/>
<path d="M 1017 677 Q 1045 697 1065 731" fill="none" stroke="#c3c5e3" stroke-width="17"/>
<path d="M 1007 962 C 1070 958 1122 920 1136 866" fill="none" stroke="#c3c5e3" stroke-width="17"/>
<path d="M 1007 984 C 1082 982 1142 932 1154 876" fill="none" stroke="#c3c5e3" stroke-width="17"/>
<path d="M 1007 1004 C 1094 1002 1162 950 1173 888" fill="none" stroke="#c3c5e3" stroke-width="17"/>
<path d="M 941.0 345 L 941.0 372" fill="none" stroke="#fdfdff" stroke-width="13.5"/>
<path d="M 961.6 345 L 961.6 372" fill="none" stroke="#fdfdff" stroke-width="13.5"/>
<path d="M 982.3 345 L 982.3 372" fill="none" stroke="#fdfdff" stroke-width="13.5"/>
<path d="M 941.0 420 L 941.0 498" fill="none" stroke="#fdfdff" stroke-width="13.5"/>
<path d="M 961.6 450 L 961.6 498" fill="none" stroke="#fdfdff" stroke-width="13.5"/>
<path d="M 982.3 420 L 982.3 498" fill="none" stroke="#fdfdff" stroke-width="13.5"/>
<path d="M 941.0 590 L 941.0 652" fill="none" stroke="#fdfdff" stroke-width="13.5"/>
<path d="M 961.6 590 L 961.6 630" fill="none" stroke="#fdfdff" stroke-width="13.5"/>
<path d="M 982.3 590 L 982.3 652" fill="none" stroke="#fdfdff" stroke-width="13.5"/>
<path d="M 941.0 708 L 941.0 812" fill="none" stroke="#fdfdff" stroke-width="13.5"/>
<path d="M 961.6 725 L 961.6 812" fill="none" stroke="#fdfdff" stroke-width="13.5"/>
<path d="M 982.3 708 L 982.3 812" fill="none" stroke="#fdfdff" stroke-width="13.5"/>
<path d="M 941.0 895 L 941.0 937" fill="none" stroke="#fdfdff" stroke-width="13.5"/>
<path d="M 961.6 895 L 961.6 937" fill="none" stroke="#fdfdff" stroke-width="13.5"/>
<path d="M 982.3 895 L 982.3 937" fill="none" stroke="#fdfdff" stroke-width="13.5"/>
<path d="M 916 527 C 860 540 785 630 748 806" fill="none" stroke="#fdfdff" stroke-width="13.5"/>
<path d="M 916 551 C 880 560 800 660 767 815" fill="none" stroke="#fdfdff" stroke-width="13.5"/>
<path d="M 906 681 C 745 683 745 834 916 832" fill="none" stroke="#fdfdff" stroke-width="13.5"/>
<path d="M 1036 755 C 990 748 940 744 900 756 C 850 770 805 790 789 829" fill="none" stroke="#fdfdff" stroke-width="13.5"/>
<path d="M 815 843 Q 862 870 916 872" fill="none" stroke="#fdfdff" stroke-width="13.5"/>
<path d="M 1007 872 Q 1061 870 1108 843" fill="none" stroke="#fdfdff" stroke-width="13.5"/>
<path d="M 751 887 C 768 948 845 1000 916 1004" fill="none" stroke="#fdfdff" stroke-width="13.5"/>
<path d="M 770 877 C 792 930 860 980 916 984" fill="none" stroke="#fdfdff" stroke-width="13.5"/>
<path d="M 787 866 C 810 915 868 958 916 962" fill="none" stroke="#fdfdff" stroke-width="13.5"/>
<path d="M 1007 524 C 1108.3 532.5 1165.5 723 1177 806" fill="none" stroke="#fdfdff" stroke-width="13.5"/>
<path d="M 1007 546 C 1097.8 563.4 1141.9 737.5 1157 813" fill="none" stroke="#fdfdff" stroke-width="13.5"/>
<path d="M 1005 566 C 1044.4 629.7 1055.6 634.2 1077 712" fill="none" stroke="#fdfdff" stroke-width="13.5"/>
<path d="M 1104 768 Q 1124 790 1136 827" fill="none" stroke="#fdfdff" stroke-width="13.5"/>
<path d="M 1017 677 Q 1045 697 1065 731" fill="none" stroke="#fdfdff" stroke-width="13.5"/>
<path d="M 1007 962 C 1070 958 1122 920 1136 866" fill="none" stroke="#fdfdff" stroke-width="13.5"/>
<path d="M 1007 984 C 1082 982 1142 932 1154 876" fill="none" stroke="#fdfdff" stroke-width="13.5"/>
<path d="M 1007 1004 C 1094 1002 1162 950 1173 888" fill="none" stroke="#fdfdff" stroke-width="13.5"/>
<path d="M 961.6 345 L 961.6 372" fill="none" stroke="#cc2a22" stroke-width="7.6"/>
<path d="M 961.6 450 L 961.6 498" pathLength="100" fill="none" stroke="#1b1b1b" stroke-width="7.6" stroke-dasharray="50 400" stroke-dashoffset="0"/>
<path d="M 941.0 420 L 941.0 498" pathLength="100" fill="none" stroke="#cc2a22" stroke-width="7.6" stroke-dasharray="40 400" stroke-dashoffset="-60"/>
<path d="M 982.3 420 L 982.3 498" pathLength="100" fill="none" stroke="#cc2a22" stroke-width="7.6" stroke-dasharray="40 400" stroke-dashoffset="-60"/>
<path d="M 916 527 C 860 540 785 630 748 806" fill="none" stroke="#1b1b1b" stroke-width="7.6"/>
<path d="M 916 551 C 880 560 800 660 767 815" fill="none" stroke="#1b1b1b" stroke-width="7.6"/>
<path d="M 941.0 590 L 941.0 652" pathLength="100" fill="none" stroke="#cc2a22" stroke-width="7.6" stroke-dasharray="40 400" stroke-dashoffset="0"/>
<path d="M 941.0 590 L 941.0 652" pathLength="100" fill="none" stroke="#1b1b1b" stroke-width="7.6" stroke-dasharray="60 400" stroke-dashoffset="-40"/>
<path d="M 961.6 590 L 961.6 630" pathLength="100" fill="none" stroke="#cc2a22" stroke-width="7.6" stroke-dasharray="50 400" stroke-dashoffset="0"/>
<path d="M 982.3 708 L 982.3 812" pathLength="100" fill="none" stroke="#1b1b1b" stroke-width="7.6" stroke-dasharray="62 400" stroke-dashoffset="0"/>
<path d="M 1017 677 Q 1045 697 1065 731" pathLength="100" fill="none" stroke="#1b1b1b" stroke-width="7.6" stroke-dasharray="60 400" stroke-dashoffset="-40"/>
<path d="M 1036 755 C 990 748 940 744 900 756 C 850 770 805 790 789 829" pathLength="100" fill="none" stroke="#cc2a22" stroke-width="7.6" stroke-dasharray="45 400" stroke-dashoffset="-55"/>
<path d="M 941.0 708 L 941.0 812" pathLength="100" fill="none" stroke="#7a1a1a" stroke-width="7.6" stroke-dasharray="38 400" stroke-dashoffset="-62"/>
<path d="M 815 843 Q 862 870 916 872" pathLength="100" fill="none" stroke="#1b1b1b" stroke-width="7.6" stroke-dasharray="55 400" stroke-dashoffset="-45"/>
<path d="M 1007 872 Q 1061 870 1108 843" pathLength="100" fill="none" stroke="#cc2a22" stroke-width="7.6" stroke-dasharray="45 400" stroke-dashoffset="0"/>
<path d="M 1007 962 C 1070 958 1122 920 1136 866" pathLength="100" fill="none" stroke="#cc2a22" stroke-width="7.6" stroke-dasharray="45 400" stroke-dashoffset="-55"/>
<path d="M 941.0 895 L 941.0 937" pathLength="100" fill="none" stroke="#cc2a22" stroke-width="7.6" stroke-dasharray="55 400" stroke-dashoffset="-45"/>
<path d="M 751 887 C 768 948 845 1000 916 1004" pathLength="100" fill="none" stroke="#cc2a22" stroke-width="7.6" stroke-dasharray="50 400" stroke-dashoffset="0"/>
<path d="M 770 877 C 792 930 860 980 916 984" pathLength="100" fill="none" stroke="#5a1414" stroke-width="7.6" stroke-dasharray="52 400" stroke-dashoffset="0"/>
<path d="M 938.2 274.2 A 25.7 25.7 0 0 1 985 274.2 L 1003 316 C 1010 331 1020 336 1020 344 C 1020 349 1016 351 1008 351 L 915.2 351 C 907.2 351 903.2 349 903.2 344 C 903.2 336 913.2 331 920.2 316 Z" fill="#eef07a" stroke="#f4f6b8" stroke-width="2"/>
<path d="M 921 365 L 1002 365 Q 1018 365 1016 380 C 1012 410 990 440 975 452 Q 961.6 462 948.2 452 C 933.2 440 911.2 410 907.2 380 Q 905.2 365 921 365 Z" fill="#7ef29a" stroke="#c8f8d0" stroke-width="2"/>
<path d="M 929.5 491 H 994 Q 1010 491 1010 507 V 579 Q 1010 595 994 595 H 929.5 Q 913.5 595 913.5 579 V 507 Q 913.5 491 929.5 491 Z" fill="#cba27a" stroke="#ead6c0" stroke-width="2"/>
<path d="M 975.7 630.1 L 1009.5 663.9 Q 1023.6 678.0 1009.5 692.1 L 975.7 725.9 Q 961.6 740.0 947.5 725.9 L 913.7 692.1 Q 899.6 678.0 913.7 663.9 L 947.5 630.1 Q 961.6 616.0 975.7 630.1 Z" fill="#eef07a" stroke="#f4f6b8" stroke-width="2"/>
<path d="M 1089.8 713.7 L 1110.2 763.3 Q 1117.0 780.0 1099.4 776.4 L 1041.6 764.6 Q 1024.0 761.0 1036.2 747.8 L 1070.8 710.2 Q 1083.0 697.0 1089.8 713.7 Z" fill="#ffffff" stroke="#e8a8b0" stroke-width="2"/>
<path d="M 931.5 804 H 992 Q 1010 804 1010 822 V 883 Q 1010 901 992 901 H 931.5 Q 913.5 901 913.5 883 V 822 Q 913.5 804 931.5 804 Z" fill="#ffffff" stroke="#e8a8b0" stroke-width="2"/>
<path d="M 931 929.5 H 992 Q 1010 929.5 1010 947.5 V 1009 Q 1010 1027 992 1027 H 931 Q 913 1027 913 1009 V 947.5 Q 913 929.5 931 929.5 Z" fill="#fffdf6" stroke="#ccc8a8" stroke-width="2"/>
<path d="M 751.9 794.0 L 813.1 833.0 Q 835.0 847.0 812.7 860.4 L 752.3 896.6 Q 730.0 910.0 730.0 884.0 L 730.0 806.0 Q 730.0 780.0 751.9 794.0 Z" fill="#cba27a" stroke="#ead6c0" stroke-width="2"/>
<path d="M 1193.0 806.0 L 1193.0 884.0 Q 1193.0 910.0 1170.7 896.6 L 1110.3 860.4 Q 1088.0 847.0 1109.9 833.0 L 1171.1 794.0 Q 1193.0 780.0 1193.0 806.0 Z" fill="#fffdf6" stroke="#ccc8a8" stroke-width="2"/>
<g font-family="'Liberation Sans', sans-serif" font-size="16" text-anchor="middle">
<text x="940" y="344.0" fill="#111" stroke="#111" stroke-width="0.35">64</text>
<circle cx="961.6" cy="338.5" r="10.3" fill="#bd2718" stroke="#ec8a66" stroke-width="1.4"/>
<text x="961.6" y="344.1" fill="#fff" font-size="15.5" font-weight="bold" letter-spacing="-1">61</text>
<text x="983" y="344.0" fill="#111" stroke="#111" stroke-width="0.35">63</text>
<text x="940" y="385.5" fill="#1f5a1f" stroke="#1f5a1f" stroke-width="0.35">47</text>
<circle cx="961.6" cy="380" r="10.3" fill="#bd2718" stroke="#ec8a66" stroke-width="1.4"/>
<text x="961.6" y="385.6" fill="#fff" font-size="15.5" font-weight="bold" letter-spacing="-1">24</text>
<text x="983" y="385.5" fill="#1f5a1f" stroke="#1f5a1f" stroke-width="0.35">4</text>
<text x="943" y="429.5" fill="#1f5a1f" stroke="#1f5a1f" stroke-width="0.35">17</text>
<text x="981" y="429.5" fill="#1f5a1f" stroke="#1f5a1f" stroke-width="0.35">11</text>
<circle cx="961.6" cy="444" r="10.3" fill="#bd2718" stroke="#ec8a66" stroke-width="1.4"/>
<text x="961.6" y="449.6" fill="#fff" font-size="15.5" font-weight="bold" letter-spacing="-1">43</text>
<circle cx="941.2" cy="504.4" r="10.3" fill="#bd2718" stroke="#ec8a66" stroke-width="1.4"/>
<text x="941.2" y="510.0" fill="#fff" font-size="15.5" font-weight="bold" letter-spacing="-1">62</text>
<text x="961.6" y="509.9" fill="#111" stroke="#111" stroke-width="0.35">23</text>
<circle cx="983.9" cy="504.4" r="10.3" fill="#bd2718" stroke="#ec8a66" stroke-width="1.4"/>
<text x="983.9" y="510.0" fill="#fff" font-size="15.5" font-weight="bold" letter-spacing="-1">56</text>
<circle cx="925.7" cy="526.7" r="10.3" fill="#bd2718" stroke="#ec8a66" stroke-width="1.4"/>
<text x="925.7" y="532.3" fill="#fff" font-size="15.5" font-weight="bold" letter-spacing="-1">16</text>
<circle cx="925.7" cy="551" r="10.3" fill="#bd2718" stroke="#ec8a66" stroke-width="1.4"/>
<text x="925.7" y="556.6" fill="#fff" font-size="15.5" font-weight="bold" letter-spacing="-1">20</text>
<text x="997" y="529.5" fill="#111" stroke="#111" stroke-width="0.35">35</text>
<text x="998" y="551.9" fill="#111" stroke="#111" stroke-width="0.35">12</text>
<text x="997.4" y="573.5" fill="#111" stroke="#111" stroke-width="0.35">45</text>
<circle cx="941.2" cy="582.2" r="10.3" fill="#bd2718" stroke="#ec8a66" stroke-width="1.4"/>
<text x="941.2" y="587.8" fill="#fff" font-size="15.5" font-weight="bold" letter-spacing="-1">31</text>
<circle cx="960.9" cy="582.2" r="10.3" fill="#bd2718" stroke="#ec8a66" stroke-width="1.4"/>
<text x="960.9" y="587.8" fill="#fff" font-size="15.5" font-weight="bold" letter-spacing="-1">8</text>
<text x="981.9" y="587.7" fill="#111" stroke="#111" stroke-width="0.35">33</text>
<text x="961.6" y="641.5" fill="#111" stroke="#111" stroke-width="0.35">1</text>
<circle cx="941.9" cy="649" r="10.3" fill="#bd2718" stroke="#ec8a66" stroke-width="1.4"/>
<text x="941.9" y="654.6" fill="#fff" font-size="15.5" font-weight="bold" letter-spacing="-1">7</text>
<text x="980.5" y="654.5" fill="#111" stroke="#111" stroke-width="0.35">13</text>
<text x="917.5" y="686.0" fill="#111" stroke="#111" stroke-width="0.35">10</text>
<text x="1006.3" y="686.3" fill="#111" stroke="#111" stroke-width="0.35">25</text>
<text x="941.5" y="716.8" fill="#111" stroke="#111" stroke-width="0.35">15</text>
<text x="961.8" y="729.1" fill="#111" stroke="#111" stroke-width="0.35">2</text>
<circle cx="981.5" cy="710.8" r="10.3" fill="#bd2718" stroke="#ec8a66" stroke-width="1.4"/>
<text x="981.5" y="716.4" fill="#fff" font-size="15.5" font-weight="bold" letter-spacing="-1">46</text>
<text x="1079.6" y="723.5" fill="#111" stroke="#111" stroke-width="0.35">21</text>
<circle cx="1065.5" cy="731" r="10.3" fill="#bd2718" stroke="#ec8a66" stroke-width="1.4"/>
<text x="1065.5" y="736.6" fill="#fff" font-size="15.5" font-weight="bold" letter-spacing="-1">51</text>
<text x="1045" y="759.5" fill="#111" stroke="#111" stroke-width="0.35">26</text>
<text x="1100" y="768.5" fill="#111" stroke="#111" stroke-width="0.35">40</text>
<circle cx="748" cy="805.5" r="10.3" fill="#bd2718" stroke="#ec8a66" stroke-width="1.4"/>
<text x="748" y="811.1" fill="#fff" font-size="15.5" font-weight="bold" letter-spacing="-1">48</text>
<circle cx="767.3" cy="814.3" r="10.3" fill="#bd2718" stroke="#ec8a66" stroke-width="1.4"/>
<text x="767.3" y="819.9" fill="#fff" font-size="15.5" font-weight="bold" letter-spacing="-1">57</text>
<circle cx="789.3" cy="829.2" r="10.3" fill="#bd2718" stroke="#ec8a66" stroke-width="1.4"/>
<text x="789.3" y="834.8" fill="#fff" font-size="15.5" font-weight="bold" letter-spacing="-1">44</text>
<text x="810.4" y="850.5" fill="#111" stroke="#111" stroke-width="0.35">50</text>
<text x="787.5" y="871.7" fill="#111" stroke="#111" stroke-width="0.35">32</text>
<circle cx="769" cy="876.8" r="10.3" fill="#bd2718" stroke="#ec8a66" stroke-width="1.4"/>
<text x="769" y="882.4" fill="#fff" font-size="15.5" font-weight="bold" letter-spacing="-1">28</text>
<circle cx="751.4" cy="887.3" r="10.3" fill="#bd2718" stroke="#ec8a66" stroke-width="1.4"/>
<text x="751.4" y="892.9" fill="#fff" font-size="15.5" font-weight="bold" letter-spacing="-1">18</text>
<text x="1177.4" y="811.1" fill="#111" stroke="#111" stroke-width="0.35">36</text>
<text x="1156.8" y="818.8" fill="#111" stroke="#111" stroke-width="0.35">22</text>
<text x="1135" y="832.9" fill="#111" stroke="#111" stroke-width="0.35">37</text>
<text x="1111.8" y="850.9" fill="#111" stroke="#111" stroke-width="0.35">6</text>
<circle cx="1136.2" cy="866" r="10.3" fill="#bd2718" stroke="#ec8a66" stroke-width="1.4"/>
<text x="1136.2" y="871.6" fill="#fff" font-size="15.5" font-weight="bold" letter-spacing="-1">49</text>
<text x="1154.2" y="881.8" fill="#111" stroke="#111" stroke-width="0.35">55</text>
<text x="1173.5" y="893.5" fill="#111" stroke="#111" stroke-width="0.35">30</text>
<circle cx="940.7" cy="817" r="10.3" fill="#bd2718" stroke="#ec8a66" stroke-width="1.4"/>
<text x="940.7" y="822.6" fill="#fff" font-size="15.5" font-weight="bold" letter-spacing="-1">5</text>
<text x="961.8" y="822.5" fill="#111" stroke="#111" stroke-width="0.35">14</text>
<text x="983" y="822.5" fill="#111" stroke="#111" stroke-width="0.35">29</text>
<text x="925.7" y="838.2" fill="#111" stroke="#111" stroke-width="0.35">34</text>
<circle cx="926.6" cy="872.4" r="10.3" fill="#bd2718" stroke="#ec8a66" stroke-width="1.4"/>
<text x="926.6" y="878.0" fill="#fff" font-size="15.5" font-weight="bold" letter-spacing="-1">27</text>
<circle cx="997.5" cy="873" r="10.3" fill="#bd2718" stroke="#ec8a66" stroke-width="1.4"/>
<text x="997.5" y="878.6" fill="#fff" font-size="15.5" font-weight="bold" letter-spacing="-1">59</text>
<text x="939.8" y="892.8" fill="#111" stroke="#111" stroke-width="0.35">42</text>
<text x="961.8" y="892.8" fill="#111" stroke="#111" stroke-width="0.35">3</text>
<text x="983" y="892.8" fill="#111" stroke="#111" stroke-width="0.35">9</text>
<circle cx="940.3" cy="943.4" r="10.3" fill="#bd2718" stroke="#ec8a66" stroke-width="1.4"/>
<text x="940.3" y="949.0" fill="#fff" font-size="15.5" font-weight="bold" letter-spacing="-1">53</text>
<text x="961" y="948.9" fill="#111" stroke="#111" stroke-width="0.35">60</text>
<text x="982.5" y="948.9" fill="#111" stroke="#111" stroke-width="0.35">52</text>
<text x="926.3" y="967.7" fill="#111" stroke="#111" stroke-width="0.35">54</text>
<text x="997.5" y="967.7" fill="#111" stroke="#111" stroke-width="0.35">19</text>
<text x="926.3" y="989.3" fill="#111" stroke="#111" stroke-width="0.35">38</text>
<text x="996.6" y="989.3" fill="#111" stroke="#111" stroke-width="0.35">39</text>
<text x="926.3" y="1009.9" fill="#111" stroke="#111" stroke-width="0.35">58</text>
<text x="995.6" y="1009.9" fill="#111" stroke="#111" stroke-width="0.35">41</text>
</g>
<path id="wmlbg" d="M 860 1024 Q 961 1064 1062 1024" fill="none"/>
<text font-family="'Liberation Sans', sans-serif" font-size="16" font-weight="bold" fill="#17173a" letter-spacing="0.3"><textPath href="#wmlbg" startOffset="50%" text-anchor="middle">www.geneticmatrix.com</textPath></text>
</g></g>
<g transform="translate(1127.04,104.6) scale(0.6)"><g id="rbg">
<path d="M 961 300 C 990 300 1008 300 1018 306 C 1036 316 1045 335 1046.5 356 C 1048 372 1047 390 1043 405 C 1038 425 1028 450 1018 467 C 1014 474 1012 480 1012.5 488 L 1014 502 C 1018 520 1036 536 1064 544 L 1100 549 C 1107 551 1111 556 1114 564 Q 1173 700 1245 880 C 1247 905 1235 925 1201 955 C 1143 1000 1058 1045 961.5 1050 C 865 1045 780 1000 722 955 C 688 925 676 905 678 880 Q 750 700 809 564 C 812 556 816 551 823 549 L 858 542 C 888 535 905 528 910 515 L 915 500 L 915 484 C 905 477 892 476 886 473 C 882 470 882 460 881.3 452 C 880 447 881 437 880.5 432 C 876 428 869 425 870.3 421 C 872 414 875.4 405 875.4 400 C 876 388 877 372 879 360 C 882 340 890 320 914 304 C 930 300 950 300 961 300 Z" fill="#cdd0ee"/>
<path d="M 941.0 345 L 941.0 372" fill="none" stroke="#c3c5e3" stroke-width="17"/>
<path d="M 961.6 345 L 961.6 372" fill="none" stroke="#c3c5e3" stroke-width="17"/>
<path d="M 982.3 345 L 982.3 372" fill="none" stroke="#c3c5e3" stroke-width="17"/>
<path d="M 941.0 420 L 941.0 498" fill="none" stroke="#c3c5e3" stroke-width="17"/>
<path d="M 961.6 450 L 961.6 498" fill="none" stroke="#c3c5e3" stroke-width="17"/>
<path d="M 982.3 420 L 982.3 498" fill="none" stroke="#c3c5e3" stroke-width="17"/>
<path d="M 941.0 590 L 941.0 652" fill="none" stroke="#c3c5e3" stroke-width="17"/>
<path d="M 961.6 590 L 961.6 630" fill="none" stroke="#c3c5e3" stroke-width="17"/>
<path d="M 982.3 590 L 982.3 652" fill="none" stroke="#c3c5e3" stroke-width="17"/>
<path d="M 941.0 708 L 941.0 812" fill="none" stroke="#c3c5e3" stroke-width="17"/>
<path d="M 961.6 725 L 961.6 812" fill="none" stroke="#c3c5e3" stroke-width="17"/>
<path d="M 982.3 708 L 982.3 812" fill="none" stroke="#c3c5e3" stroke-width="17"/>
<path d="M 941.0 895 L 941.0 937" fill="none" stroke="#c3c5e3" stroke-width="17"/>
<path d="M 961.6 895 L 961.6 937" fill="none" stroke="#c3c5e3" stroke-width="17"/>
<path d="M 982.3 895 L 982.3 937" fill="none" stroke="#c3c5e3" stroke-width="17"/>
<path d="M 916 527 C 860 540 785 630 748 806" fill="none" stroke="#c3c5e3" stroke-width="17"/>
<path d="M 916 551 C 880 560 800 660 767 815" fill="none" stroke="#c3c5e3" stroke-width="17"/>
<path d="M 906 681 C 745 683 745 834 916 832" fill="none" stroke="#c3c5e3" stroke-width="17"/>
<path d="M 1036 755 C 990 748 940 744 900 756 C 850 770 805 790 789 829" fill="none" stroke="#c3c5e3" stroke-width="17"/>
<path d="M 815 843 Q 862 870 916 872" fill="none" stroke="#c3c5e3" stroke-width="17"/>
<path d="M 1007 872 Q 1061 870 1108 843" fill="none" stroke="#c3c5e3" stroke-width="17"/>
<path d="M 751 887 C 768 948 845 1000 916 1004" fill="none" stroke="#c3c5e3" stroke-width="17"/>
<path d="M 770 877 C 792 930 860 980 916 984" fill="none" stroke="#c3c5e3" stroke-width="17"/>
<path d="M 787 866 C 810 915 868 958 916 962" fill="none" stroke="#c3c5e3" stroke-width="17"/>
<path d="M 1007 524 C 1108.3 532.5 1165.5 723 1177 806" fill="none" stroke="#c3c5e3" stroke-width="17"/>
<path d="M 1007 546 C 1097.8 563.4 1141.9 737.5 1157 813" fill="none" stroke="#c3c5e3" stroke-width="17"/>
<path d="M 1005 566 C 1044.4 629.7 1055.6 634.2 1077 712" fill="none" stroke="#c3c5e3" stroke-width="17"/>
<path d="M 1104 768 Q 1124 790 1136 827" fill="none" stroke="#c3c5e3" stroke-width="17"/>
<path d="M 1017 677 Q 1045 697 1065 731" fill="none" stroke="#c3c5e3" stroke-width="17"/>
<path d="M 1007 962 C 1070 958 1122 920 1136 866" fill="none" stroke="#c3c5e3" stroke-width="17"/>
<path d="M 1007 984 C 1082 982 1142 932 1154 876" fill="none" stroke="#c3c5e3" stroke-width="17"/>
<path d="M 1007 1004 C 1094 1002 1162 950 1173 888" fill="none" stroke="#c3c5e3" stroke-width="17"/>
<path d="M 941.0 345 L 941.0 372" fill="none" stroke="#fdfdff" stroke-width="13.5"/>
<path d="M 961.6 345 L 961.6 372" fill="none" stroke="#fdfdff" stroke-width="13.5"/>
<path d="M 982.3 345 L 982.3 372" fill="none" stroke="#fdfdff" stroke-width="13.5"/>
<path d="M 941.0 420 L 941.0 498" fill="none" stroke="#fdfdff" stroke-width="13.5"/>
<path d="M 961.6 450 L 961.6 498" fill="none" stroke="#fdfdff" stroke-width="13.5"/>
<path d="M 982.3 420 L 982.3 498" fill="none" stroke="#fdfdff" stroke-width="13.5"/>
<path d="M 941.0 590 L 941.0 652" fill="none" stroke="#fdfdff" stroke-width="13.5"/>
<path d="M 961.6 590 L 961.6 630" fill="none" stroke="#fdfdff" stroke-width="13.5"/>
<path d="M 982.3 590 L 982.3 652" fill="none" stroke="#fdfdff" stroke-width="13.5"/>
<path d="M 941.0 708 L 941.0 812" fill="none" stroke="#fdfdff" stroke-width="13.5"/>
<path d="M 961.6 725 L 961.6 812" fill="none" stroke="#fdfdff" stroke-width="13.5"/>
<path d="M 982.3 708 L 982.3 812" fill="none" stroke="#fdfdff" stroke-width="13.5"/>
<path d="M 941.0 895 L 941.0 937" fill="none" stroke="#fdfdff" stroke-width="13.5"/>
<path d="M 961.6 895 L 961.6 937" fill="none" stroke="#fdfdff" stroke-width="13.5"/>
<path d="M 982.3 895 L 982.3 937" fill="none" stroke="#fdfdff" stroke-width="13.5"/>
<path d="M 916 527 C 860 540 785 630 748 806" fill="none" stroke="#fdfdff" stroke-width="13.5"/>
<path d="M 916 551 C 880 560 800 660 767 815" fill="none" stroke="#fdfdff" stroke-width="13.5"/>
<path d="M 906 681 C 745 683 745 834 916 832" fill="none" stroke="#fdfdff" stroke-width="13.5"/>
<path d="M 1036 755 C 990 748 940 744 900 756 C 850 770 805 790 789 829" fill="none" stroke="#fdfdff" stroke-width="13.5"/>
<path d="M 815 843 Q 862 870 916 872" fill="none" stroke="#fdfdff" stroke-width="13.5"/>
<path d="M 1007 872 Q 1061 870 1108 843" fill="none" stroke="#fdfdff" stroke-width="13.5"/>
<path d="M 751 887 C 768 948 845 1000 916 1004" fill="none" stroke="#fdfdff" stroke-width="13.5"/>
<path d="M 770 877 C 792 930 860 980 916 984" fill="none" stroke="#fdfdff" stroke-width="13.5"/>
<path d="M 787 866 C 810 915 868 958 916 962" fill="none" stroke="#fdfdff" stroke-width="13.5"/>
<path d="M 1007 524 C 1108.3 532.5 1165.5 723 1177 806" fill="none" stroke="#fdfdff" stroke-width="13.5"/>
<path d="M 1007 546 C 1097.8 563.4 1141.9 737.5 1157 813" fill="none" stroke="#fdfdff" stroke-width="13.5"/>
<path d="M 1005 566 C 1044.4 629.7 1055.6 634.2 1077 712" fill="none" stroke="#fdfdff" stroke-width="13.5"/>
<path d="M 1104 768 Q 1124 790 1136 827" fill="none" stroke="#fdfdff" stroke-width="13.5"/>
<path d="M 1017 677 Q 1045 697 1065 731" fill="none" stroke="#fdfdff" stroke-width="13.5"/>
<path d="M 1007 962 C 1070 958 1122 920 1136 866" fill="none" stroke="#fdfdff" stroke-width="13.5"/>
<path d="M 1007 984 C 1082 982 1142 932 1154 876" fill="none" stroke="#fdfdff" stroke-width="13.5"/>
<path d="M 1007 1004 C 1094 1002 1162 950 1173 888" fill="none" stroke="#fdfdff" stroke-width="13.5"/>
<path d="M 961.6 345 L 961.6 372" pathLength="100" fill="none" stroke="#1b1b1b" stroke-width="7.6" stroke-dasharray="50 400" stroke-dashoffset="-50"/>
<path d="M 982.3 345 L 982.3 372" pathLength="100" fill="none" stroke="#1b1b1b" stroke-width="7.6" stroke-dasharray="50 400" stroke-dashoffset="0"/>
<path d="M 961.6 450 L 961.6 498" fill="none" stroke="#1b1b1b" stroke-width="7.6"/>
<path d="M 982.3 708 L 982.3 812" pathLength="100" fill="none" stroke="#1b1b1b" stroke-width="7.6" stroke-dasharray="62 400" stroke-dashoffset="0"/>
<path d="M 1007 524 C 1108.3 532.5 1165.5 723 1177 806" pathLength="100" fill="none" stroke="#1b1b1b" stroke-width="7.6" stroke-dasharray="50 400" stroke-dashoffset="-50"/>
<path d="M 1007 546 C 1097.8 563.4 1141.9 737.5 1157 813" pathLength="100" fill="none" stroke="#1b1b1b" stroke-width="7.6" stroke-dasharray="53 400" stroke-dashoffset="-47"/>
<path d="M 1007 872 Q 1061 870 1108 843" pathLength="100" fill="none" stroke="#1b1b1b" stroke-width="7.6" stroke-dasharray="45 400" stroke-dashoffset="-55"/>
<path d="M 1007 962 C 1070 958 1122 920 1136 866" fill="none" stroke="#1b1b1b" stroke-width="7.6"/>
<path d="M 961.6 895 L 961.6 937" pathLength="100" fill="none" stroke="#1b1b1b" stroke-width="7.6" stroke-dasharray="55 400" stroke-dashoffset="-45"/>
<path d="M 938.2 274.2 A 25.7 25.7 0 0 1 985 274.2 L 1003 316 C 1010 331 1020 336 1020 344 C 1020 349 1016 351 1008 351 L 915.2 351 C 907.2 351 903.2 349 903.2 344 C 903.2 336 913.2 331 920.2 316 Z" fill="#fffff4" stroke="#f0f0b0" stroke-width="2"/>
<path d="M 921 365 L 1002 365 Q 1018 365 1016 380 C 1012 410 990 440 975 452 Q 961.6 462 948.2 452 C 933.2 440 911.2 410 907.2 380 Q 905.2 365 921 365 Z" fill="#7ef29a" stroke="#c8f8d0" stroke-width="2"/>
<path d="M 929.5 491 H 994 Q 1010 491 1010 507 V 579 Q 1010 595 994 595 H 929.5 Q 913.5 595 913.5 579 V 507 Q 913.5 491 929.5 491 Z" fill="#cba27a" stroke="#ead6c0" stroke-width="2"/>
<path d="M 975.7 630.1 L 1009.5 663.9 Q 1023.6 678.0 1009.5 692.1 L 975.7 725.9 Q 961.6 740.0 947.5 725.9 L 913.7 692.1 Q 899.6 678.0 913.7 663.9 L 947.5 630.1 Q 961.6 616.0 975.7 630.1 Z" fill="#fffff4" stroke="#eef0b0" stroke-width="2"/>
<path d="M 1089.8 713.7 L 1110.2 763.3 Q 1117.0 780.0 1099.4 776.4 L 1041.6 764.6 Q 1024.0 761.0 1036.2 747.8 L 1070.8 710.2 Q 1083.0 697.0 1089.8 713.7 Z" fill="#ffffff" stroke="#e8a8b0" stroke-width="2"/>
<path d="M 931.5 804 H 992 Q 1010 804 1010 822 V 883 Q 1010 901 992 901 H 931.5 Q 913.5 901 913.5 883 V 822 Q 913.5 804 931.5 804 Z" fill="#ffffff" stroke="#e8b0b8" stroke-width="2"/>
<path d="M 931 929.5 H 992 Q 1010 929.5 1010 947.5 V 1009 Q 1010 1027 992 1027 H 931 Q 913 1027 913 1009 V 947.5 Q 913 929.5 931 929.5 Z" fill="#cba27a" stroke="#ead6c0" stroke-width="2"/>
<path d="M 751.9 794.0 L 813.1 833.0 Q 835.0 847.0 812.7 860.4 L 752.3 896.6 Q 730.0 910.0 730.0 884.0 L 730.0 806.0 Q 730.0 780.0 751.9 794.0 Z" fill="#ffffff" stroke="#d8c8b0" stroke-width="2"/>
<path d="M 1193.0 806.0 L 1193.0 884.0 Q 1193.0 910.0 1170.7 896.6 L 1110.3 860.4 Q 1088.0 847.0 1109.9 833.0 L 1171.1 794.0 Q 1193.0 780.0 1193.0 806.0 Z" fill="#cba27a" stroke="#ead6c0" stroke-width="2"/>
<g font-family="'Liberation Sans', sans-serif" font-size="16" text-anchor="middle">
<text x="940" y="344.0" fill="#111" stroke="#111" stroke-width="0.35">64</text>
<text x="961.6" y="344.0" fill="#111" stroke="#111" stroke-width="0.35">61</text>
<circle cx="983" cy="338.5" r="10.3" fill="#bd2718" stroke="#ec8a66" stroke-width="1.4"/>
<text x="983" y="344.1" fill="#fff" font-size="15.5" font-weight="bold" letter-spacing="-1">63</text>
<text x="940" y="385.5" fill="#1f5a1f" stroke="#1f5a1f" stroke-width="0.35">47</text>
<circle cx="961.6" cy="380" r="10.3" fill="#bd2718" stroke="#ec8a66" stroke-width="1.4"/>
<text x="961.6" y="385.6" fill="#fff" font-size="15.5" font-weight="bold" letter-spacing="-1">24</text>
<text x="983" y="385.5" fill="#1f5a1f" stroke="#1f5a1f" stroke-width="0.35">4</text>
<text x="943" y="429.5" fill="#1f5a1f" stroke="#1f5a1f" stroke-width="0.35">17</text>
<text x="981" y="429.5" fill="#1f5a1f" stroke="#1f5a1f" stroke-width="0.35">11</text>
<circle cx="961.6" cy="444" r="10.3" fill="#bd2718" stroke="#ec8a66" stroke-width="1.4"/>
<text x="961.6" y="449.6" fill="#fff" font-size="15.5" font-weight="bold" letter-spacing="-1">43</text>
<text x="941.2" y="509.9" fill="#111" stroke="#111" stroke-width="0.35">62</text>
<circle cx="961.6" cy="504.4" r="10.3" fill="#bd2718" stroke="#ec8a66" stroke-width="1.4"/>
<text x="961.6" y="510.0" fill="#fff" font-size="15.5" font-weight="bold" letter-spacing="-1">23</text>
<text x="983.9" y="509.9" fill="#111" stroke="#111" stroke-width="0.35">56</text>
<text x="925.7" y="532.2" fill="#111" stroke="#111" stroke-width="0.35">16</text>
<text x="925.7" y="556.5" fill="#111" stroke="#111" stroke-width="0.35">20</text>
<text x="997" y="529.5" fill="#111" stroke="#111" stroke-width="0.35">35</text>
<text x="998" y="551.9" fill="#111" stroke="#111" stroke-width="0.35">12</text>
<text x="997.4" y="573.5" fill="#111" stroke="#111" stroke-width="0.35">45</text>
<text x="941.2" y="587.7" fill="#111" stroke="#111" stroke-width="0.35">31</text>
<text x="960.9" y="587.7" fill="#111" stroke="#111" stroke-width="0.35">8</text>
<text x="981.9" y="587.7" fill="#111" stroke="#111" stroke-width="0.35">33</text>
<text x="961.6" y="641.5" fill="#111" stroke="#111" stroke-width="0.35">1</text>
<text x="941.9" y="654.5" fill="#111" stroke="#111" stroke-width="0.35">7</text>
<text x="980.5" y="654.5" fill="#111" stroke="#111" stroke-width="0.35">13</text>
<text x="917.5" y="686.0" fill="#111" stroke="#111" stroke-width="0.35">10</text>
<text x="1006.3" y="686.3" fill="#111" stroke="#111" stroke-width="0.35">25</text>
<text x="941.5" y="716.8" fill="#111" stroke="#111" stroke-width="0.35">15</text>
<text x="961.8" y="729.1" fill="#111" stroke="#111" stroke-width="0.35">2</text>
<circle cx="981.5" cy="710.8" r="10.3" fill="#bd2718" stroke="#ec8a66" stroke-width="1.4"/>
<text x="981.5" y="716.4" fill="#fff" font-size="15.5" font-weight="bold" letter-spacing="-1">46</text>
<text x="1079.6" y="723.5" fill="#111" stroke="#111" stroke-width="0.35">21</text>
<text x="1065.5" y="736.5" fill="#111" stroke="#111" stroke-width="0.35">51</text>
<text x="1045" y="759.5" fill="#111" stroke="#111" stroke-width="0.35">26</text>
<text x="1100" y="768.5" fill="#111" stroke="#111" stroke-width="0.35">40</text>
<text x="748" y="811.0" fill="#111" stroke="#111" stroke-width="0.35">48</text>
<text x="767.3" y="819.8" fill="#111" stroke="#111" stroke-width="0.35">57</text>
<text x="789.3" y="834.7" fill="#111" stroke="#111" stroke-width="0.35">44</text>
<text x="810.4" y="850.5" fill="#111" stroke="#111" stroke-width="0.35">50</text>
<text x="787.5" y="871.7" fill="#111" stroke="#111" stroke-width="0.35">32</text>
<text x="769" y="882.3" fill="#111" stroke="#111" stroke-width="0.35">28</text>
<text x="751.4" y="892.8" fill="#111" stroke="#111" stroke-width="0.35">18</text>
<circle cx="1177.4" cy="805.6" r="10.3" fill="#bd2718" stroke="#ec8a66" stroke-width="1.4"/>
<text x="1177.4" y="811.2" fill="#fff" font-size="15.5" font-weight="bold" letter-spacing="-1">36</text>
<circle cx="1156.8" cy="813.3" r="10.3" fill="#bd2718" stroke="#ec8a66" stroke-width="1.4"/>
<text x="1156.8" y="818.9" fill="#fff" font-size="15.5" font-weight="bold" letter-spacing="-1">22</text>
<text x="1135" y="832.9" fill="#111" stroke="#111" stroke-width="0.35">37</text>
<circle cx="1111.8" cy="845.4" r="10.3" fill="#bd2718" stroke="#ec8a66" stroke-width="1.4"/>
<text x="1111.8" y="851.0" fill="#fff" font-size="15.5" font-weight="bold" letter-spacing="-1">6</text>
<circle cx="1136.2" cy="866" r="10.3" fill="#bd2718" stroke="#ec8a66" stroke-width="1.4"/>
<text x="1136.2" y="871.6" fill="#fff" font-size="15.5" font-weight="bold" letter-spacing="-1">49</text>
<text x="1154.2" y="881.8" fill="#111" stroke="#111" stroke-width="0.35">55</text>
<text x="1173.5" y="893.5" fill="#111" stroke="#111" stroke-width="0.35">30</text>
<text x="940.7" y="822.5" fill="#111" stroke="#111" stroke-width="0.35">5</text>
<text x="961.8" y="822.5" fill="#111" stroke="#111" stroke-width="0.35">14</text>
<text x="983" y="822.5" fill="#111" stroke="#111" stroke-width="0.35">29</text>
<text x="925.7" y="838.2" fill="#111" stroke="#111" stroke-width="0.35">34</text>
<text x="926.6" y="877.9" fill="#111" stroke="#111" stroke-width="0.35">27</text>
<text x="997.5" y="878.5" fill="#111" stroke="#111" stroke-width="0.35">59</text>
<text x="939.8" y="892.8" fill="#111" stroke="#111" stroke-width="0.35">42</text>
<text x="961.8" y="892.8" fill="#111" stroke="#111" stroke-width="0.35">3</text>
<text x="983" y="892.8" fill="#111" stroke="#111" stroke-width="0.35">9</text>
<text x="940.3" y="948.9" fill="#111" stroke="#111" stroke-width="0.35">53</text>
<circle cx="961" cy="943.4" r="10.3" fill="#bd2718" stroke="#ec8a66" stroke-width="1.4"/>
<text x="961" y="949.0" fill="#fff" font-size="15.5" font-weight="bold" letter-spacing="-1">60</text>
<text x="982.5" y="948.9" fill="#111" stroke="#111" stroke-width="0.35">52</text>
<text x="926.3" y="967.7" fill="#111" stroke="#111" stroke-width="0.35">54</text>
<circle cx="997.5" cy="962.2" r="10.3" fill="#bd2718" stroke="#ec8a66" stroke-width="1.4"/>
<text x="997.5" y="967.8" fill="#fff" font-size="15.5" font-weight="bold" letter-spacing="-1">19</text>
<text x="926.3" y="989.3" fill="#111" stroke="#111" stroke-width="0.35">38</text>
<text x="996.6" y="989.3" fill="#111" stroke="#111" stroke-width="0.35">39</text>
<text x="926.3" y="1009.9" fill="#111" stroke="#111" stroke-width="0.35">58</text>
<text x="995.6" y="1009.9" fill="#111" stroke="#111" stroke-width="0.35">41</text>
</g>
<path id="wmrbg" d="M 860 1024 Q 961 1064 1062 1024" fill="none"/>
<text font-family="'Liberation Sans', sans-serif" font-size="16" font-weight="bold" fill="#17173a" letter-spacing="0.3"><textPath href="#wmrbg" startOffset="50%" text-anchor="middle">www.geneticmatrix.com</textPath></text>
</g></g>
<text x="484.4" y="251.5" font-family="'Liberation Sans', sans-serif" font-size="24.2" fill="#48b048">Christie Inge</text>
<text x="1299.3" y="251.5" font-family="'Liberation Sans', sans-serif" font-size="24.2" fill="#a45ab4">Transit</text>
<text x="510.8" y="296.0" font-family="'Liberation Sans', sans-serif" font-size="18.5" font-weight="bold" fill="#b03c3c" text-anchor="middle">62.2</text>
<g transform="translate(541,277.0)" fill="none" stroke-linecap="round" stroke-linejoin="round"><g stroke="#6f86a6" stroke-width="4" opacity="0.95"><ellipse cx="12" cy="12" rx="10" ry="12"/></g><g stroke="#c9d9ec" stroke-width="1.5"><ellipse cx="12" cy="12" rx="10" ry="12"/></g><g fill="#6f86a6"><circle cx="12" cy="12" r="1.8"/></g></g>
<text x="594.5" y="296.0" font-family="'Liberation Sans', sans-serif" font-size="18.5" font-weight="bold" fill="#111" text-anchor="middle">57.5</text>
<g transform="translate(1325,277.0)" fill="none" stroke-linecap="round" stroke-linejoin="round"><g stroke="#a886b8" stroke-width="4" opacity="0.95"><ellipse cx="12" cy="12" rx="10" ry="12"/></g><g stroke="#ecd9f4" stroke-width="1.5"><ellipse cx="12" cy="12" rx="10" ry="12"/></g><g fill="#a886b8"><circle cx="12" cy="12" r="1.8"/></g></g>
<text x="1379" y="296.0" font-family="'Liberation Sans', sans-serif" font-size="18.5" font-weight="bold" fill="#111" text-anchor="middle">36.6</text>
<text x="510.8" y="358.2" font-family="'Liberation Sans', sans-serif" font-size="18.5" font-weight="bold" fill="#b03c3c" text-anchor="middle">61.2</text>
<g transform="translate(541,339.2)" fill="none" stroke-linecap="round" stroke-linejoin="round"><g stroke="#6f86a6" stroke-width="4" opacity="0.95"><ellipse cx="12" cy="12" rx="10" ry="11.5"/><path d="M12 1 V23 M2.5 12 H21.5 M3.5 7 H20.5 M3.5 17 H20.5"/></g><g stroke="#c9d9ec" stroke-width="1.5"><ellipse cx="12" cy="12" rx="10" ry="11.5"/><path d="M12 1 V23 M2.5 12 H21.5 M3.5 7 H20.5 M3.5 17 H20.5"/></g></g>
<text x="594.5" y="358.2" font-family="'Liberation Sans', sans-serif" font-size="18.5" font-weight="bold" fill="#111" text-anchor="middle">51.5</text>
<g transform="translate(1325,339.2)" fill="none" stroke-linecap="round" stroke-linejoin="round"><g stroke="#a886b8" stroke-width="4" opacity="0.95"><ellipse cx="12" cy="12" rx="10" ry="11.5"/><path d="M12 1 V23 M2.5 12 H21.5 M3.5 7 H20.5 M3.5 17 H20.5"/></g><g stroke="#ecd9f4" stroke-width="1.5"><ellipse cx="12" cy="12" rx="10" ry="11.5"/><path d="M12 1 V23 M2.5 12 H21.5 M3.5 7 H20.5 M3.5 17 H20.5"/></g></g>
<text x="1379" y="358.2" font-family="'Liberation Sans', sans-serif" font-size="18.5" font-weight="bold" fill="#111" text-anchor="middle">6.6</text>
<text x="510.8" y="420.4" font-family="'Liberation Sans', sans-serif" font-size="18.5" font-weight="bold" fill="#b03c3c" text-anchor="middle">44.3</text>
<g transform="translate(541,401.4)" fill="none" stroke-linecap="round" stroke-linejoin="round"><g stroke="#6f86a6" stroke-width="4" opacity="0.95"><path d="M8.5 21 C1 15 3 1 12 1 C21 1 23 15 15.5 21"/><circle cx="5.5" cy="19.5" r="3"/><circle cx="18.5" cy="19.5" r="3"/></g><g stroke="#c9d9ec" stroke-width="1.5"><path d="M8.5 21 C1 15 3 1 12 1 C21 1 23 15 15.5 21"/><circle cx="5.5" cy="19.5" r="3"/><circle cx="18.5" cy="19.5" r="3"/></g></g>
<text x="594.5" y="420.4" font-family="'Liberation Sans', sans-serif" font-size="18.5" font-weight="bold" fill="#111" text-anchor="middle">28.2</text>
<rect x="571" y="392.4" width="72.5" height="43" fill="none" stroke="#e8b838" stroke-width="3"/>
<g transform="translate(1325,401.4)" fill="none" stroke-linecap="round" stroke-linejoin="round"><g stroke="#a886b8" stroke-width="4" opacity="0.95"><path d="M8.5 21 C1 15 3 1 12 1 C21 1 23 15 15.5 21"/><circle cx="5.5" cy="19.5" r="3"/><circle cx="18.5" cy="19.5" r="3"/></g><g stroke="#ecd9f4" stroke-width="1.5"><path d="M8.5 21 C1 15 3 1 12 1 C21 1 23 15 15.5 21"/><circle cx="5.5" cy="19.5" r="3"/><circle cx="18.5" cy="19.5" r="3"/></g></g>
<text x="1379" y="420.4" font-family="'Liberation Sans', sans-serif" font-size="18.5" font-weight="bold" fill="#111" text-anchor="middle">23.6</text>
<text x="1304.4" y="420.4" font-family="'Liberation Sans', sans-serif" font-size="18" font-weight="bold" fill="#a060c0" text-anchor="middle">R</text>
<text x="510.8" y="482.6" font-family="'Liberation Sans', sans-serif" font-size="18.5" font-weight="bold" fill="#b03c3c" text-anchor="middle">24.3</text>
<g transform="translate(541,463.6)" fill="none" stroke-linecap="round" stroke-linejoin="round"><g stroke="#6f86a6" stroke-width="4" opacity="0.95"><path d="M8.5 3 C1 9 3 23 12 23 C21 23 23 9 15.5 3"/><circle cx="5.5" cy="4.5" r="3"/><circle cx="18.5" cy="4.5" r="3"/></g><g stroke="#c9d9ec" stroke-width="1.5"><path d="M8.5 3 C1 9 3 23 12 23 C21 23 23 9 15.5 3"/><circle cx="5.5" cy="4.5" r="3"/><circle cx="18.5" cy="4.5" r="3"/></g></g>
<text x="594.5" y="482.6" font-family="'Liberation Sans', sans-serif" font-size="18.5" font-weight="bold" fill="#111" text-anchor="middle">27.2</text>
<rect x="571" y="454.6" width="72.5" height="43" fill="none" stroke="#e8b838" stroke-width="3"/>
<g transform="translate(1325,463.6)" fill="none" stroke-linecap="round" stroke-linejoin="round"><g stroke="#a886b8" stroke-width="4" opacity="0.95"><path d="M8.5 3 C1 9 3 23 12 23 C21 23 23 9 15.5 3"/><circle cx="5.5" cy="4.5" r="3"/><circle cx="18.5" cy="4.5" r="3"/></g><g stroke="#ecd9f4" stroke-width="1.5"><path d="M8.5 3 C1 9 3 23 12 23 C21 23 23 9 15.5 3"/><circle cx="5.5" cy="4.5" r="3"/><circle cx="18.5" cy="4.5" r="3"/></g></g>
<text x="1379" y="482.6" font-family="'Liberation Sans', sans-serif" font-size="18.5" font-weight="bold" fill="#111" text-anchor="middle">43.6</text>
<text x="1304.4" y="482.6" font-family="'Liberation Sans', sans-serif" font-size="18" font-weight="bold" fill="#a060c0" text-anchor="middle">R</text>
<text x="510.8" y="544.8" font-family="'Liberation Sans', sans-serif" font-size="18.5" font-weight="bold" fill="#b03c3c" text-anchor="middle">49.5</text>
<g transform="translate(541,525.8)" fill="none" stroke-linecap="round" stroke-linejoin="round"><g stroke="#6f86a6" stroke-width="4" opacity="0.95"><path d="M6 1 C19 1.5 21 22 6 23 C13 18 14 6 6 1 Z"/></g><g stroke="#c9d9ec" stroke-width="1.5"><path d="M6 1 C19 1.5 21 22 6 23 C13 18 14 6 6 1 Z"/></g></g>
<text x="594.5" y="544.8" font-family="'Liberation Sans', sans-serif" font-size="18.5" font-weight="bold" fill="#111" text-anchor="middle">16.6</text>
<g transform="translate(1325,525.8)" fill="none" stroke-linecap="round" stroke-linejoin="round"><g stroke="#a886b8" stroke-width="4" opacity="0.95"><path d="M6 1 C19 1.5 21 22 6 23 C13 18 14 6 6 1 Z"/></g><g stroke="#ecd9f4" stroke-width="1.5"><path d="M6 1 C19 1.5 21 22 6 23 C13 18 14 6 6 1 Z"/></g></g>
<text x="1379" y="544.8" font-family="'Liberation Sans', sans-serif" font-size="18.5" font-weight="bold" fill="#111" text-anchor="middle">46.3</text>
<text x="510.8" y="607.0" font-family="'Liberation Sans', sans-serif" font-size="18.5" font-weight="bold" fill="#b03c3c" text-anchor="middle">53.6</text>
<g transform="translate(541,588.0)" fill="none" stroke-linecap="round" stroke-linejoin="round"><g stroke="#6f86a6" stroke-width="4" opacity="0.95"><path d="M7.5 0.5 C8 4.5 16 4.5 16.5 0.5"/><circle cx="12" cy="9.5" r="4.8"/><path d="M12 14.5 V23.5 M7.5 19 H16.5"/></g><g stroke="#c9d9ec" stroke-width="1.5"><path d="M7.5 0.5 C8 4.5 16 4.5 16.5 0.5"/><circle cx="12" cy="9.5" r="4.8"/><path d="M12 14.5 V23.5 M7.5 19 H16.5"/></g></g>
<text x="594.5" y="607.0" font-family="'Liberation Sans', sans-serif" font-size="18.5" font-weight="bold" fill="#111" text-anchor="middle">46.6</text>
<g transform="translate(1325,588.0)" fill="none" stroke-linecap="round" stroke-linejoin="round"><g stroke="#a886b8" stroke-width="4" opacity="0.95"><path d="M7.5 0.5 C8 4.5 16 4.5 16.5 0.5"/><circle cx="12" cy="9.5" r="4.8"/><path d="M12 14.5 V23.5 M7.5 19 H16.5"/></g><g stroke="#ecd9f4" stroke-width="1.5"><path d="M7.5 0.5 C8 4.5 16 4.5 16.5 0.5"/><circle cx="12" cy="9.5" r="4.8"/><path d="M12 14.5 V23.5 M7.5 19 H16.5"/></g></g>
<text x="1379" y="607.0" font-family="'Liberation Sans', sans-serif" font-size="18.5" font-weight="bold" fill="#111" text-anchor="middle">63.3</text>
<text x="510.8" y="669.2" font-family="'Liberation Sans', sans-serif" font-size="18.5" font-weight="bold" fill="#b03c3c" text-anchor="middle">56.3</text>
<g transform="translate(541,650.2)" fill="none" stroke-linecap="round" stroke-linejoin="round"><g stroke="#6f86a6" stroke-width="4" opacity="0.95"><circle cx="12" cy="7.5" r="5.8"/><path d="M12 13.5 V23.5 M6.5 18.5 H17.5"/></g><g stroke="#c9d9ec" stroke-width="1.5"><circle cx="12" cy="7.5" r="5.8"/><path d="M12 13.5 V23.5 M6.5 18.5 H17.5"/></g></g>
<text x="594.5" y="669.2" font-family="'Liberation Sans', sans-serif" font-size="18.5" font-weight="bold" fill="#111" text-anchor="middle">43.2</text>
<g transform="translate(1325,650.2)" fill="none" stroke-linecap="round" stroke-linejoin="round"><g stroke="#a886b8" stroke-width="4" opacity="0.95"><circle cx="12" cy="7.5" r="5.8"/><path d="M12 13.5 V23.5 M6.5 18.5 H17.5"/></g><g stroke="#ecd9f4" stroke-width="1.5"><circle cx="12" cy="7.5" r="5.8"/><path d="M12 13.5 V23.5 M6.5 18.5 H17.5"/></g></g>
<text x="1379" y="669.2" font-family="'Liberation Sans', sans-serif" font-size="18.5" font-weight="bold" fill="#111" text-anchor="middle">19.4</text>
<text x="510.8" y="731.4" font-family="'Liberation Sans', sans-serif" font-size="18.5" font-weight="bold" fill="#b03c3c" text-anchor="middle">59.5</text>
<g transform="translate(541,712.4000000000001)" fill="none" stroke-linecap="round" stroke-linejoin="round"><g stroke="#6f86a6" stroke-width="4" opacity="0.95"><ellipse cx="8.5" cy="15.5" rx="6" ry="6.5"/><path d="M13 10.5 L21 2.5 M14.5 2.5 H21 V9"/></g><g stroke="#c9d9ec" stroke-width="1.5"><ellipse cx="8.5" cy="15.5" rx="6" ry="6.5"/><path d="M13 10.5 L21 2.5 M14.5 2.5 H21 V9"/></g></g>
<text x="594.5" y="731.4" font-family="'Liberation Sans', sans-serif" font-size="18.5" font-weight="bold" fill="#111" text-anchor="middle">28.1</text>
<g transform="translate(1325,712.4000000000001)" fill="none" stroke-linecap="round" stroke-linejoin="round"><g stroke="#a886b8" stroke-width="4" opacity="0.95"><ellipse cx="8.5" cy="15.5" rx="6" ry="6.5"/><path d="M13 10.5 L21 2.5 M14.5 2.5 H21 V9"/></g><g stroke="#ecd9f4" stroke-width="1.5"><ellipse cx="8.5" cy="15.5" rx="6" ry="6.5"/><path d="M13 10.5 L21 2.5 M14.5 2.5 H21 V9"/></g></g>
<text x="1379" y="731.4" font-family="'Liberation Sans', sans-serif" font-size="18.5" font-weight="bold" fill="#111" text-anchor="middle">19.2</text>
<text x="510.8" y="793.6" font-family="'Liberation Sans', sans-serif" font-size="18.5" font-weight="bold" fill="#b03c3c" text-anchor="middle">8.1</text>
<g transform="translate(541,774.6)" fill="none" stroke-linecap="round" stroke-linejoin="round"><g stroke="#6f86a6" stroke-width="4" opacity="0.95"><path d="M2.5 6 C5 0.5 12 2 10.5 8.5 C9 13.5 5 16 2.5 17.5 H22.5 M16.5 4 V23.5"/></g><g stroke="#c9d9ec" stroke-width="1.5"><path d="M2.5 6 C5 0.5 12 2 10.5 8.5 C9 13.5 5 16 2.5 17.5 H22.5 M16.5 4 V23.5"/></g></g>
<text x="594.5" y="793.6" font-family="'Liberation Sans', sans-serif" font-size="18.5" font-weight="bold" fill="#111" text-anchor="middle">20.1</text>
<g transform="translate(1325,774.6)" fill="none" stroke-linecap="round" stroke-linejoin="round"><g stroke="#a886b8" stroke-width="4" opacity="0.95"><path d="M2.5 6 C5 0.5 12 2 10.5 8.5 C9 13.5 5 16 2.5 17.5 H22.5 M16.5 4 V23.5"/></g><g stroke="#ecd9f4" stroke-width="1.5"><path d="M2.5 6 C5 0.5 12 2 10.5 8.5 C9 13.5 5 16 2.5 17.5 H22.5 M16.5 4 V23.5"/></g></g>
<text x="1379" y="793.6" font-family="'Liberation Sans', sans-serif" font-size="18.5" font-weight="bold" fill="#111" text-anchor="middle">22.2</text>
<text x="510.8" y="855.8" font-family="'Liberation Sans', sans-serif" font-size="18.5" font-weight="bold" fill="#b03c3c" text-anchor="middle">31.3</text>
<g transform="translate(541,836.8000000000001)" fill="none" stroke-linecap="round" stroke-linejoin="round"><g stroke="#6f86a6" stroke-width="4" opacity="0.95"><path d="M6.5 1.5 V20 M2 6 H11 M6.5 13 C8.5 7.5 17.5 8 16.5 14.5 C15.5 18.5 12 19.5 14.5 23.5"/></g><g stroke="#c9d9ec" stroke-width="1.5"><path d="M6.5 1.5 V20 M2 6 H11 M6.5 13 C8.5 7.5 17.5 8 16.5 14.5 C15.5 18.5 12 19.5 14.5 23.5"/></g></g>
<text x="594.5" y="855.8" font-family="'Liberation Sans', sans-serif" font-size="18.5" font-weight="bold" fill="#111" text-anchor="middle">7.2</text>
<g transform="translate(1325,836.8000000000001)" fill="none" stroke-linecap="round" stroke-linejoin="round"><g stroke="#a886b8" stroke-width="4" opacity="0.95"><path d="M6.5 1.5 V20 M2 6 H11 M6.5 13 C8.5 7.5 17.5 8 16.5 14.5 C15.5 18.5 12 19.5 14.5 23.5"/></g><g stroke="#ecd9f4" stroke-width="1.5"><path d="M6.5 1.5 V20 M2 6 H11 M6.5 13 C8.5 7.5 17.5 8 16.5 14.5 C15.5 18.5 12 19.5 14.5 23.5"/></g></g>
<text x="1379" y="855.8" font-family="'Liberation Sans', sans-serif" font-size="18.5" font-weight="bold" fill="#111" text-anchor="middle">49.2</text>
<text x="510.8" y="918.0" font-family="'Liberation Sans', sans-serif" font-size="18.5" font-weight="bold" fill="#b03c3c" text-anchor="middle">28.2</text>
<g transform="translate(541,899.0)" fill="none" stroke-linecap="round" stroke-linejoin="round"><g stroke="#6f86a6" stroke-width="4" opacity="0.95"><path d="M4 2 V17 M20 2 V17 M4 10 H20 M12 2 V15"/><circle cx="12" cy="19" r="3"/></g><g stroke="#c9d9ec" stroke-width="1.5"><path d="M4 2 V17 M20 2 V17 M4 10 H20 M12 2 V15"/><circle cx="12" cy="19" r="3"/></g></g>
<text x="594.5" y="918.0" font-family="'Liberation Sans', sans-serif" font-size="18.5" font-weight="bold" fill="#111" text-anchor="middle">28.5</text>
<rect x="571" y="890.0" width="72.5" height="43" fill="none" stroke="#e8b838" stroke-width="3"/>
<g transform="translate(1325,899.0)" fill="none" stroke-linecap="round" stroke-linejoin="round"><g stroke="#a886b8" stroke-width="4" opacity="0.95"><path d="M4 2 V17 M20 2 V17 M4 10 H20 M12 2 V15"/><circle cx="12" cy="19" r="3"/></g><g stroke="#ecd9f4" stroke-width="1.5"><path d="M4 2 V17 M20 2 V17 M4 10 H20 M12 2 V15"/><circle cx="12" cy="19" r="3"/></g></g>
<text x="1379" y="918.0" font-family="'Liberation Sans', sans-serif" font-size="18.5" font-weight="bold" fill="#111" text-anchor="middle">24.5</text>
<text x="510.8" y="980.2" font-family="'Liberation Sans', sans-serif" font-size="18.5" font-weight="bold" fill="#b03c3c" text-anchor="middle">5.1</text>
<g transform="translate(541,961.2)" fill="none" stroke-linecap="round" stroke-linejoin="round"><g stroke="#6f86a6" stroke-width="4" opacity="0.95"><path d="M2.5 3.5 C2.5 12 6 14.5 12 14.5 C18 14.5 21.5 12 21.5 3.5 M12 2.5 V23.5 M7 19 H17"/></g><g stroke="#c9d9ec" stroke-width="1.5"><path d="M2.5 3.5 C2.5 12 6 14.5 12 14.5 C18 14.5 21.5 12 21.5 3.5 M12 2.5 V23.5 M7 19 H17"/></g></g>
<text x="594.5" y="980.2" font-family="'Liberation Sans', sans-serif" font-size="18.5" font-weight="bold" fill="#111" text-anchor="middle">5.1</text>
<rect x="571" y="952.2" width="72.5" height="43" fill="none" stroke="#e8b838" stroke-width="3"/>
<g transform="translate(1325,961.2)" fill="none" stroke-linecap="round" stroke-linejoin="round"><g stroke="#a886b8" stroke-width="4" opacity="0.95"><path d="M2.5 3.5 C2.5 12 6 14.5 12 14.5 C18 14.5 21.5 12 21.5 3.5 M12 2.5 V23.5 M7 19 H17"/></g><g stroke="#ecd9f4" stroke-width="1.5"><path d="M2.5 3.5 C2.5 12 6 14.5 12 14.5 C18 14.5 21.5 12 21.5 3.5 M12 2.5 V23.5 M7 19 H17"/></g></g>
<text x="1379" y="980.2" font-family="'Liberation Sans', sans-serif" font-size="18.5" font-weight="bold" fill="#111" text-anchor="middle">36.1</text>
<text x="510.8" y="1042.4" font-family="'Liberation Sans', sans-serif" font-size="18.5" font-weight="bold" fill="#b03c3c" text-anchor="middle">18.6</text>
<g transform="translate(541,1023.4000000000001)" fill="none" stroke-linecap="round" stroke-linejoin="round"><g stroke="#6f86a6" stroke-width="4" opacity="0.95"><path d="M5.5 1.5 V22.5 H19.5 M5.5 2 H11 C17.5 2 17.5 13 11 13 H5.5"/></g><g stroke="#c9d9ec" stroke-width="1.5"><path d="M5.5 1.5 V22.5 H19.5 M5.5 2 H11 C17.5 2 17.5 13 11 13 H5.5"/></g></g>
<text x="594.5" y="1042.4" font-family="'Liberation Sans', sans-serif" font-size="18.5" font-weight="bold" fill="#111" text-anchor="middle">48.3</text>
<rect x="571" y="1014.4" width="72.5" height="43" fill="none" stroke="#e8b838" stroke-width="3"/>
<g transform="translate(1325,1023.4000000000001)" fill="none" stroke-linecap="round" stroke-linejoin="round"><g stroke="#a886b8" stroke-width="4" opacity="0.95"><path d="M5.5 1.5 V22.5 H19.5 M5.5 2 H11 C17.5 2 17.5 13 11 13 H5.5"/></g><g stroke="#ecd9f4" stroke-width="1.5"><path d="M5.5 1.5 V22.5 H19.5 M5.5 2 H11 C17.5 2 17.5 13 11 13 H5.5"/></g></g>
<text x="1379" y="1042.4" font-family="'Liberation Sans', sans-serif" font-size="18.5" font-weight="bold" fill="#111" text-anchor="middle">60.2</text>
<polygon points="474.4,516.4 472.1,520.4 467.5,520.4 469.8,524.4 467.5,528.4 472.1,528.4 474.4,532.4 476.7,528.4 481.3,528.4 479.0,524.4 481.3,520.4 476.7,520.4" fill="#b050e0"/>
<polygon points="474.4,654.9549999999999 480.9,643.645 467.9,643.645" fill="#22a838"/>
<polygon points="629.8,706.645 636.3,717.9549999999999 623.3,717.9549999999999" fill="#22a838"/>
<polygon points="630.5,1018.845 637.0,1030.155 624.0,1030.155" fill="#22a838"/>
<polygon points="1414,520.745 1420.5,532.055 1407.5,532.055" fill="#a040d0"/>
<polygon points="1414.0,642.0 1411.7,646.0 1407.1,646.0 1409.4,650.0 1407.1,654.0 1411.7,654.0 1414.0,658.0 1416.3,654.0 1420.9,654.0 1418.6,650.0 1420.9,646.0 1416.3,646.0" fill="#a040d0"/>
<polygon points="1414,777.655 1420.5,766.345 1407.5,766.345" fill="#a040d0"/>
<g fill="none" stroke="#b93a36" stroke-width="2.6" stroke-linejoin="miter"><circle cx="752.4" cy="309" r="15" fill="#fff"/><path d="M 737.4 305.5 H 718.4 V 298 L 702.4 309 L 718.4 320 V 312.5 H 737.4" fill="#fff"/></g><text x="752.4" y="316.3" font-family="'Liberation Sans', sans-serif" font-size="20" font-weight="bold" fill="#b93a36" text-anchor="middle">L</text>
<g fill="none" stroke="#111111" stroke-width="2.6" stroke-linejoin="miter"><circle cx="802" cy="309" r="15" fill="#fff"/><path d="M 817 305.5 H 836 V 298 L 852 309 L 836 320 V 312.5 H 817" fill="#fff"/></g><text x="802" y="316.3" font-family="'Liberation Sans', sans-serif" font-size="20" font-weight="bold" fill="#111111" text-anchor="middle">R</text>
<path d="M 713 336.7 Q 717 330.7 721 336.7 L 734 359.7 Q 737 365.7 730 365.7 L 704 365.7 Q 697 365.7 700 359.7 Z" fill="none" stroke="#3a9e3a" stroke-width="2.6" stroke-linejoin="round"/><text x="717" y="357.7" font-family="'Liberation Sans', sans-serif" font-size="19" font-weight="bold" fill="#3a9e3a" fill-opacity="0.85" text-anchor="middle">3</text>
<circle cx="753.4" cy="349.7" r="16.5" fill="none" stroke="#e3b244" stroke-width="2.6"/><text x="753.4" y="356.7" font-family="'Liberation Sans', sans-serif" font-size="19" font-weight="bold" fill="#e3b244" fill-opacity="0.85" text-anchor="middle">1</text>
<circle cx="802" cy="349.7" r="16.5" fill="none" stroke="#e3b244" stroke-width="2.6"/><text x="802" y="356.7" font-family="'Liberation Sans', sans-serif" font-size="19" font-weight="bold" fill="#e3b244" fill-opacity="0.85" text-anchor="middle">6</text>
<path d="M 833 336.7 Q 837 330.7 841 336.7 L 854 359.7 Q 857 365.7 850 365.7 L 824 365.7 Q 817 365.7 820 359.7 Z" fill="none" stroke="#3a9e3a" stroke-width="2.6" stroke-linejoin="round"/><text x="837" y="357.7" font-family="'Liberation Sans', sans-serif" font-size="19" font-weight="bold" fill="#3a9e3a" fill-opacity="0.85" text-anchor="middle">4</text>
<g fill="none" stroke="#b93a36" stroke-width="2.6" stroke-linejoin="miter"><circle cx="718.9" cy="433" r="15" fill="#fff"/><path d="M 733.9 429.5 H 752.9 V 422 L 768.9 433 L 752.9 444 V 436.5 H 733.9" fill="#fff"/></g><text x="718.9" y="440.3" font-family="'Liberation Sans', sans-serif" font-size="20" font-weight="bold" fill="#b93a36" text-anchor="middle">R</text>
<g fill="none" stroke="#111111" stroke-width="2.6" stroke-linejoin="miter"><circle cx="802.2" cy="433" r="15" fill="#fff"/><path d="M 817.2 429.5 H 836.2 V 422 L 852.2 433 L 836.2 444 V 436.5 H 817.2" fill="#fff"/></g><text x="802.2" y="440.3" font-family="'Liberation Sans', sans-serif" font-size="20" font-weight="bold" fill="#111111" text-anchor="middle">R</text>
<path d="M 713 459.6 Q 717 453.6 721 459.6 L 734 482.6 Q 737 488.6 730 488.6 L 704 488.6 Q 697 488.6 700 482.6 Z" fill="none" stroke="#3a9e3a" stroke-width="2.6" stroke-linejoin="round"/><text x="717" y="480.6" font-family="'Liberation Sans', sans-serif" font-size="19" font-weight="bold" fill="#3a9e3a" fill-opacity="0.85" text-anchor="middle">5</text>
<circle cx="753.4" cy="472.6" r="16.5" fill="none" stroke="#e3b244" stroke-width="2.6"/><text x="753.4" y="479.6" font-family="'Liberation Sans', sans-serif" font-size="19" font-weight="bold" fill="#e3b244" fill-opacity="0.85" text-anchor="middle">1</text>
<circle cx="802" cy="472.6" r="16.5" fill="none" stroke="#e3b244" stroke-width="2.6"/><text x="802" y="479.6" font-family="'Liberation Sans', sans-serif" font-size="19" font-weight="bold" fill="#e3b244" fill-opacity="0.85" text-anchor="middle">4</text>
<path d="M 833 459.6 Q 837 453.6 841 459.6 L 854 482.6 Q 857 488.6 850 488.6 L 824 488.6 Q 817 488.6 820 482.6 Z" fill="none" stroke="#3a9e3a" stroke-width="2.6" stroke-linejoin="round"/><text x="837" y="480.6" font-family="'Liberation Sans', sans-serif" font-size="19" font-weight="bold" fill="#3a9e3a" fill-opacity="0.85" text-anchor="middle">6</text>
<g fill="none" stroke="#111111" stroke-width="2.6" stroke-linejoin="miter"><circle cx="1177.2" cy="310" r="15" fill="#fff"/><path d="M 1192.2 306.5 H 1211.2 V 299 L 1227.2 310 L 1211.2 321 V 313.5 H 1192.2" fill="#fff"/></g><text x="1177.2" y="317.3" font-family="'Liberation Sans', sans-serif" font-size="20" font-weight="bold" fill="#111111" text-anchor="middle">R</text>
<circle cx="1136.6" cy="349.4" r="16.5" fill="none" stroke="#b93a36" stroke-width="2.6"/><text x="1136.6" y="356.4" font-family="'Liberation Sans', sans-serif" font-size="19" font-weight="bold" fill="#b93a36" fill-opacity="0.85" text-anchor="middle">1</text>
<circle cx="1174" cy="349.4" r="16.5" fill="none" stroke="#e3b244" stroke-width="2.6"/><text x="1174" y="356.4" font-family="'Liberation Sans', sans-serif" font-size="19" font-weight="bold" fill="#e3b244" fill-opacity="0.85" text-anchor="middle">4</text>
<path d="M 1206 336.4 Q 1210 330.4 1214 336.4 L 1227 359.4 Q 1230 365.4 1223 365.4 L 1197 365.4 Q 1190 365.4 1193 359.4 Z" fill="none" stroke="#3a9e3a" stroke-width="2.6" stroke-linejoin="round"/><text x="1210" y="357.4" font-family="'Liberation Sans', sans-serif" font-size="19" font-weight="bold" fill="#3a9e3a" fill-opacity="0.85" text-anchor="middle">5</text>
<g fill="none" stroke="#111111" stroke-width="2.6" stroke-linejoin="miter"><circle cx="1210" cy="433.7" r="15" fill="#fff"/><path d="M 1195 430.2 H 1176 V 422.7 L 1160 433.7 L 1176 444.7 V 437.2 H 1195" fill="#fff"/></g><text x="1210" y="441.0" font-family="'Liberation Sans', sans-serif" font-size="20" font-weight="bold" fill="#111111" text-anchor="middle">L</text>
<circle cx="1136.6" cy="473" r="16.5" fill="none" stroke="#b93a36" stroke-width="2.6"/><text x="1136.6" y="480" font-family="'Liberation Sans', sans-serif" font-size="19" font-weight="bold" fill="#b93a36" fill-opacity="0.85" text-anchor="middle">6</text>
<circle cx="1174" cy="473" r="16.5" fill="none" stroke="#e3b244" stroke-width="2.6"/><text x="1174" y="480" font-family="'Liberation Sans', sans-serif" font-size="19" font-weight="bold" fill="#e3b244" fill-opacity="0.85" text-anchor="middle">3</text>
<path d="M 1206 460 Q 1210 454 1214 460 L 1227 483 Q 1230 489 1223 489 L 1197 489 Q 1190 489 1193 483 Z" fill="none" stroke="#3a9e3a" stroke-width="2.6" stroke-linejoin="round"/><text x="1210" y="481" font-family="'Liberation Sans', sans-serif" font-size="19" font-weight="bold" fill="#3a9e3a" fill-opacity="0.85" text-anchor="middle">2</text>
<text x="214.8" y="791.5" font-family="'Liberation Serif', serif" font-size="23.3" fill="#1a1a1a" text-anchor="middle">Christie Inge</text>
<text x="42.2" y="832.0" font-family="'Liberation Serif', serif" font-size="18" fill="#1a1a1a">Birth Date: </text>
<text x="42.2" y="858.9" font-family="'Liberation Serif', serif" font-size="18" fill="#1a1a1a">Birth Place: </text>
<text x="42.2" y="885.9" font-family="'Liberation Serif', serif" font-size="18" fill="#1a1a1a">Age: 45 years</text>
<text x="42.2" y="912.8" font-family="'Liberation Serif', serif" font-size="18" fill="#1a1a1a">Type: Splenic Projector</text>
<text x="42.2" y="939.7" font-family="'Liberation Serif', serif" font-size="18" fill="#1a1a1a">Profile: 5/2 - Heretical / Hermit</text>
<text x="42.2" y="966.6" font-family="'Liberation Serif', serif" font-size="18" fill="#1a1a1a">Definition: Split - Small (11,17,23)</text>
<text x="42.2" y="993.6" font-family="'Liberation Serif', serif" font-size="18" fill="#1a1a1a">Strategy: Wait for Recognition and Invitation</text>
<text x="42.2" y="1020.5" font-family="'Liberation Serif', serif" font-size="18" fill="#1a1a1a">Themes: Success / Bitterness</text>
<text x="42.2" y="1047.4" font-family="'Liberation Serif', serif" font-size="18" fill="#1a1a1a">Incarnation Cross: LAX The Clarion 2</text>
<text x="1694.3" y="791.9" font-family="'Liberation Serif', serif" font-size="23.2" fill="#1a1a1a" text-anchor="middle">Transit</text>
<text x="1520.4" y="831.7" font-family="'Liberation Serif', serif" font-size="18.2" fill="#1a1a1a">Transit Date: 18 March 2022, 08:40:37</text>
<text x="1520.4" y="858.7" font-family="'Liberation Serif', serif" font-size="18.2" fill="#1a1a1a">Transit Age: 45 years</text>
<text x="1520.4" y="885.7" font-family="'Liberation Serif', serif" font-size="18.2" fill="#1a1a1a">Incarnation Cross: LAX The Plane 1</text>
<g fill="#333"><rect x="129" y="824" width="1.6" height="8"/><rect x="133" y="830.5" width="9" height="1.6"/><rect x="152" y="831" width="4" height="1.2" fill="#bbb"/><rect x="249" y="818" width="5" height="1.2" fill="#ccc"/><rect x="265" y="816" width="4" height="1.2" fill="#bbb"/><rect x="280" y="817" width="6" height="1.2" fill="#ccc"/><rect x="133" y="850" width="1.6" height="8.5"/><rect x="133" y="857" width="6" height="1.5"/><rect x="140" y="858" width="52" height="1.3" fill="#555"/><rect x="192" y="856" width="1.4" height="4"/><rect x="306" y="858" width="10" height="1.4" fill="#444"/><rect x="318" y="857" width="8" height="1.6"/><rect x="326" y="852" width="1.4" height="7"/></g>
<text x="810" y="1125.4" font-family="'Liberation Sans', sans-serif" font-size="29.1" font-weight="bold" fill="#5c8a30">Connection Channels</text>
<text x="60.3" y="1170.6" font-family="'Liberation Sans', sans-serif" font-size="18.5" font-weight="bold" fill="#6a9a48">Definition:</text>
<text x="60.3" y="1195.6" font-family="'Liberation Sans', sans-serif" font-size="19.5" fill="#111">Split</text>
<text x="404" y="1170.6" font-family="'Liberation Sans', sans-serif" font-size="18.5" font-weight="bold" fill="#6a9a48">Personal Channels</text>
<text x="854.2" y="1170.4" font-family="'Liberation Sans', sans-serif" font-size="18.4" font-weight="bold" fill="#6a9a48">Educational Channels</text>
<text x="1300" y="1170.4" font-family="'Liberation Sans', sans-serif" font-size="18.3" font-weight="bold" fill="#6a9a48">Birth Channels</text>
<text x="404" y="1201.9" font-family="'Liberation Sans', sans-serif" font-size="20.2" fill="#111">Structuring (23-43)</text>
<text x="404" y="1224.3" font-family="'Liberation Sans', sans-serif" font-size="20.2" fill="#111">Synthesis (19-49)</text>
<text x="404" y="1246.7" font-family="'Liberation Sans', sans-serif" font-size="20.2" fill="#111">Mating (6-59)</text>
<text x="1300" y="1201.7" font-family="'Liberation Sans', sans-serif" font-size="20.2" fill="#111">Awareness (24-61)</text>
<text x="1300" y="1224.5" font-family="'Liberation Sans', sans-serif" font-size="20.2" fill="#111">The Brain Wave (20-57)</text>
<text x="1300" y="1247.3" font-family="'Liberation Sans', sans-serif" font-size="20.2" fill="#111">The Wavelength (16-48)</text>
<text x="1300" y="1270.1" font-family="'Liberation Sans', sans-serif" font-size="20.2" fill="#111">The Alpha (7-31)</text>
</svg></body></html>
